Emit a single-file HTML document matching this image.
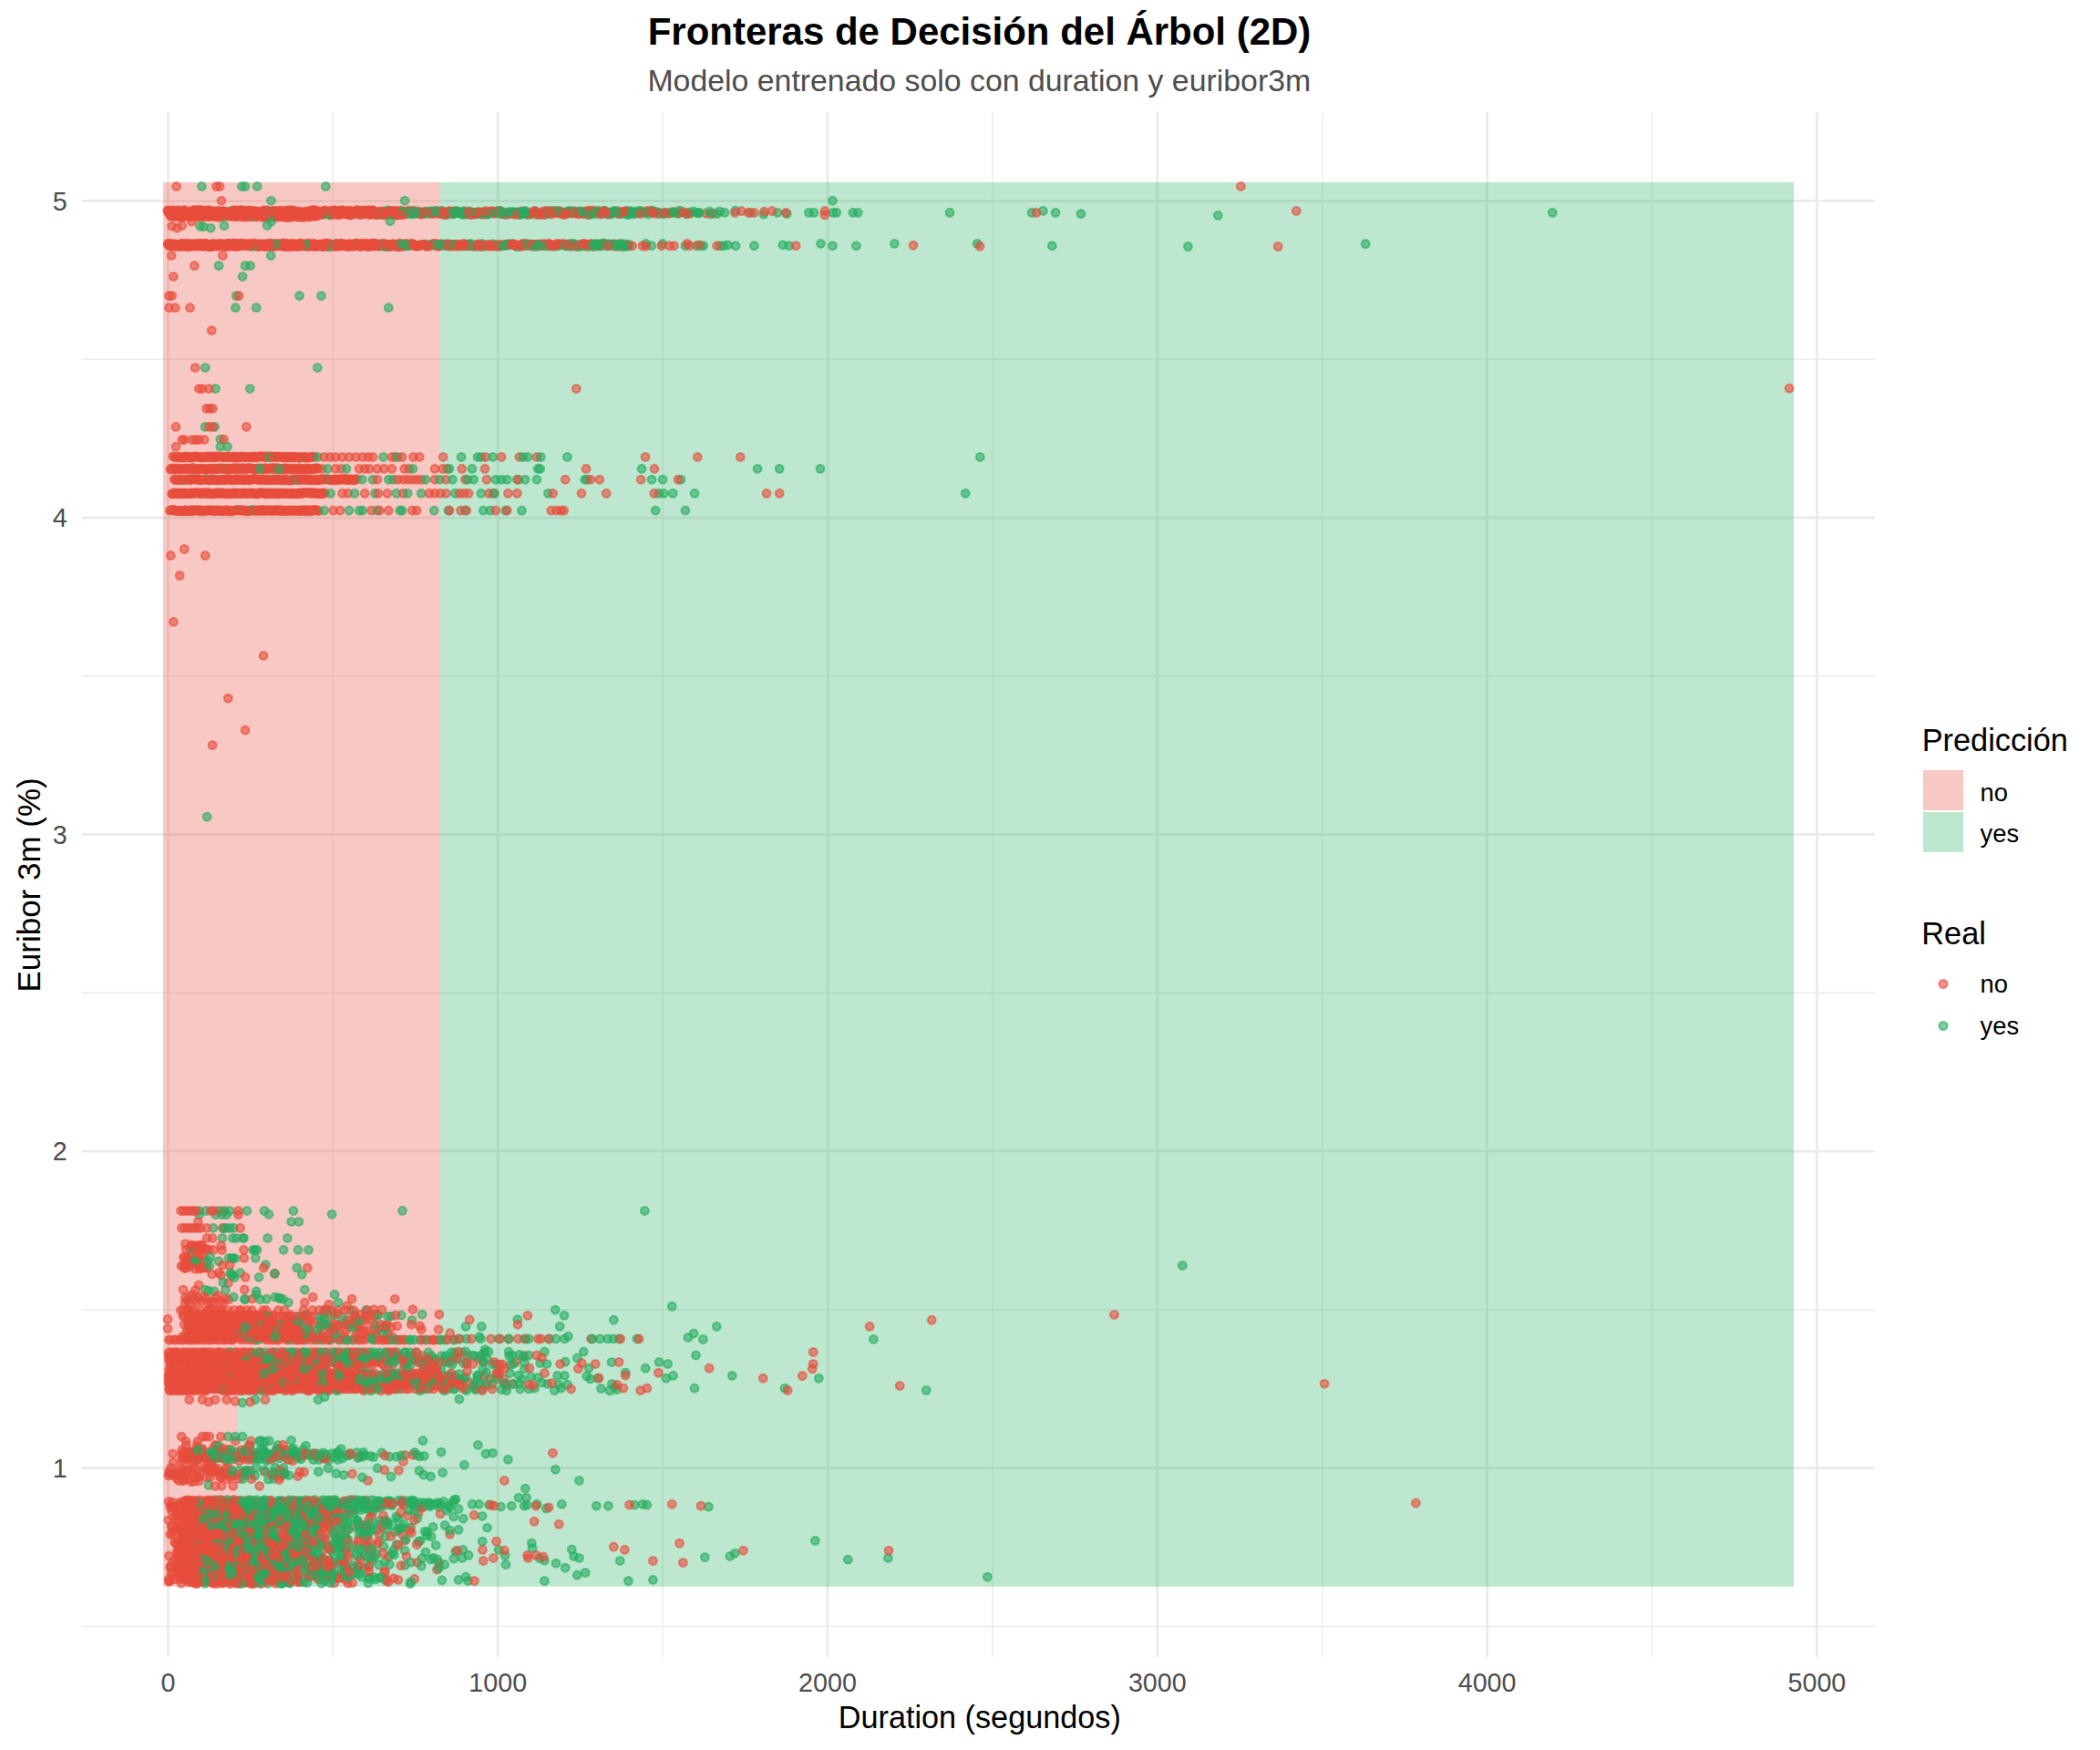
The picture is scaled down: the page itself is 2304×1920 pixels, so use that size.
<!DOCTYPE html>
<html><head><meta charset="utf-8"><title>Fronteras de Decisión del Árbol (2D)</title>
<style>html,body{margin:0;padding:0;background:#fff;width:2304px;height:1920px;overflow:hidden}</style>
</head><body>
<svg width="2304" height="1920" viewBox="0 0 2304 1920" style="display:block;font-family:'Liberation Sans',sans-serif">
<rect width="2304" height="1920" fill="#fff"/>
<path d="M90 1784.4H2057M90 1436.9H2057M90 1089.3H2057M90 741.7H2057M90 394.2H2057M365.3 123V1818M727.1 123V1818M1088.9 123V1818M1450.7 123V1818M1812.5 123V1818" stroke="#EBEBEB" stroke-width="1.45" fill="none"/>
<path d="M90 1610.6H2057M90 1263.1H2057M90 915.5H2057M90 568.0H2057M90 220.4H2057M184.4 123V1818M546.2 123V1818M908.0 123V1818M1269.8 123V1818M1631.6 123V1818M1993.4 123V1818" stroke="#EBEBEB" stroke-width="2.9" fill="none"/>
<path d="M179 200H483.0V1527H260.0V1740.7H179Z" fill="#E74C3C" fill-opacity="0.3"/>
<path d="M483.0 200H1968V1740.7H260.0V1527H483.0Z" fill="#27AE60" fill-opacity="0.3"/>
<defs><style>.r,.g,.R,.S{fill:none}.r{marker:url(#r)}.g{marker:url(#g)}.R{marker-start:url(#r)}.S{marker-start:url(#g)}</style><marker id="r" markerWidth="14" markerHeight="14" refX="7" refY="7" markerUnits="userSpaceOnUse"><circle cx="7" cy="7" r="4.4" fill="#E74C3C" fill-opacity=".6" stroke="#E74C3C" stroke-opacity=".6" stroke-width="2.2"/></marker><marker id="g" markerWidth="14" markerHeight="14" refX="7" refY="7" markerUnits="userSpaceOnUse"><circle cx="7" cy="7" r="4.4" fill="#27AE60" fill-opacity=".6" stroke="#27AE60" stroke-opacity=".6" stroke-width="2.2"/></marker></defs><path class="r" d="M211.1 501.6L233.6 234.6L523.6 269.1"/><path class="S" d="M519.4 269.7z"/><path class="r" d="M431.3 233.8L332.3 269.3L274.5 267.1L232 236.7L246.3 270.2"/><path class="g" d="M636 231.8L360.8 525.8"/><path class="r" d="M373.9 232L284.5 270.4L217.2 1367.1L206 513.9L513.1 269.2L194.6 560.6"/><path class="S" d="M571.5 270.1z"/><path class="r" d="M343.5 267.4L273.7 560.5L277.9 514.8L337.7 540.7L223.8 269.6L280.6 560.4L253.9 231.8L305.8 268.1L252.3 232.8L315.9 559.9L334.9 268.5L210.6 268.4L340.5 526.2L362.3 268.1L495.5 269.9L294.9 559.9L302.4 238.3L606.6 269.7L506.1 269.2L207.7 514.9L243.3 269.6L247.8 232.7L229 540.5L327.1 514.1L218.6 501.7L224 541L261.3 526.1L652.1 233.1"/><path class="S" d="M549.1 270z"/><path class="r" d="M199.7 542.1L319.2 270L224.2 234.8L218.7 561L281.2 502.2L212.1 231L328 232.4L308.7 268.9L190.6 232.8"/><path class="g" d="M719.3 232.7L611.3 232.5"/><path class="r" d="M206.7 501.7L647.9 231L357.8 267L252.6 526.4L228.8 502L207 233.4L322.3 541.7L467.5 269.9L266.8 513.8L343.5 526.2L393.3 233.4L283.3 232.9L340.8 501.8L277.5 235.7L435.7 231.6"/><path class="S" d="M434.8 235.9z"/><path class="r" d="M311 514.7L305 234.1L318.7 541.8L188.7 542L316.9 234.2L199.9 232.9L356.8 231.2L682.3 232.8L335 235.1L326.3 237.4L674.5 270L391.4 525.5L192.7 560.1L328.6 502L673.8 267.4L252.8 267.6L341.9 237.5L330.7 268.7L355.4 541L356.9 525.5L411.8 235.3L269.3 514.7L514.3 269L265 515L236.3 238.1L215.3 268.5L271 233.7L307.3 237.8L427 231.3L266.5 234.1L333.7 502.1"/><path class="S" d="M498 234.1z"/><path class="r" d="M220.9 230.8L271.9 526.3L238.3 268.4L221.9 501.5L323.7 232.3"/><path class="S" d="M413.2 269.5z"/><path class="r" d="M318.9 527L250.6 540.9L253.7 541.4L352.5 267.8L208.5 501.6L265.5 235.9L291.2 502L255.4 541.3L337.3 235.7L390.4 267.2L238 235.5L232 231.9"/><path class="S" d="M484.5 231.2z"/><path class="r" d="M307.4 501L296.1 540.7L344.9 270.5L190.5 234.8L356.4 541.1L251.3 514.2"/><path class="S" d="M373.6 267.6z"/><path class="r" d="M191.4 515L295.4 270L555.3 234L243.8 232.7"/><path class="g" d="M695.6 234.9L642.4 232.4L471.9 233.2"/><path class="r" d="M226.2 235.3L300 231.9L228.2 514.8L295.6 559.4"/><path class="S" d="M524 234.4z"/><path class="r" d="M279.8 541.8L286.1 540.6L230.3 269.2L411.3 270"/><path class="S" d="M425.2 230.7z"/><path class="r" d="M501.1 231.5L651.6 270.4L362.7 268.1L304.8 269.1L376.1 526.1L224.2 560.5L244.9 267.7"/><path class="S" d="M450.5 233.5z"/><path class="r" d="M204.1 233.3L314.5 235"/><path class="S" d="M548.8 269.5z"/><path class="r" d="M230.9 526.6L423.5 270.5L276.2 237.9L672 232.7L524.2 269.6L248.5 234.1L331.8 540.6"/><path class="S" d="M474.6 267.5z"/><path class="r" d="M380.4 269L515.9 235.4L345.1 230.6L220.3 559.9L607.5 270L336.7 270.3L191.2 525.7L228.3 231.3L354 270.1L298.7 526.6L554.8 235.5L613 269.4L220.4 542"/><path class="g" d="M528.7 267.4L594.7 269.4"/><path class="R" d="M268.5 541.5z"/><path class="S" d="M417.6 234.6z"/><path class="r" d="M525.3 267.7L334.6 526.6L321.4 541.5L385.9 269.6"/><path class="S" d="M461.1 268.5z"/><path class="r" d="M629.2 233.6L205.3 266.9L226 540.6L546.7 268.6L436.4 270.6L258.4 525.8L310 270.2L269.8 268.7L215.1 237.3L403.1 267.9L302.4 526.2L244.8 501.8L278.2 233.4L311.7 526.9L298.7 500.9L371.1 269L222 525.9L317.3 560.2L433.3 269L231.4 560.1L193 501.6L538.1 232.3"/><path class="S" d="M508.8 231.4z"/><path class="r" d="M576.6 267.3L297.2 235.8L379.6 233"/><path class="S" d="M665.9 269z"/><path class="r" d="M201.2 560.9L526.2 233.5L332.2 238.6L366.3 269.1L329.5 232L284.1 234.2L477.9 231.3"/><path class="S" d="M657.3 268.6z"/><path class="r" d="M316.4 501.9L575.5 269L291.8 232.2L303.2 513.8"/><path class="S" d="M566.1 233z"/><path class="r" d="M306.5 541.6L200.6 268.4L378.3 234.7L294.2 542L278.1 269.4L379 525.8L383 267.4L302.2 541.8L323.3 501.4L196.5 270.4L286.8 233.2"/><path class="S" d="M614.7 268.7z"/><path class="r" d="M213.8 234.6L406.9 234.2L382.3 526.4L214.5 269.4L389.2 234.2L424.3 269L226.1 1370.7L191.7 540.6L410.6 269.1"/><path class="S" d="M466.4 268z"/><path class="r" d="M463.5 233.2L703.6 231.7L315.1 541L366 269.7"/><path class="g" d="M227 234.2L698.9 231.6"/><path class="r" d="M209.1 238L317.2 514.4L651.7 231L259.1 525.7"/><path class="S" d="M707.2 233.1z"/><path class="r" d="M346.5 540.9L289 541.1L278.5 559.5L193.5 268.6L625.7 269.3L416.4 268.2L264.1 230.6"/><path class="g" d="M469.3 232.5L656.6 231.2L315.2 526.8L670.7 235.1"/><path class="r" d="M226.2 269.3L196.3 501.8L196 514.2L394.5 234L283.8 560.1L196.4 560.2L209.2 268.1"/><path class="S" d="M623.7 233.6z"/><path class="r" d="M286.5 233L491.5 269.9L404.8 268.2L252.9 526.6L636.7 270.2L275.9 231.4L425.5 234.1L395.2 235.8L327.4 238.3L211.3 233.4L224.3 1390.3L253.1 541.9L188.4 269.8L345.9 559.5L391 267"/><path class="S" d="M562 268z"/><path class="r" d="M258.9 270.6L372.8 267.2L274.6 231.5"/><path class="S" d="M501 269z"/><path class="r" d="M433.7 269.2L344.4 231.8L217.2 514.7L284 269.7L297.9 513.5L285.6 560.5L541.3 268.7"/><path class="g" d="M689.6 268.2L297.5 525.7"/><path class="r" d="M287.6 268.2L310.5 501.5L304.1 513.5L273.8 269.3L348.1 559.8L332.9 234.3"/><path class="S" d="M648 268.9z"/><path class="r" d="M326.1 270.3L269.6 541.1"/><path class="S" d="M212.7 525.5z"/><path class="R" d="M757.3 234.2z"/><path class="S" d="M617.7 233.3z"/><path class="r" d="M511.9 268.3L566.7 270.4L641.6 233.2L430.4 231.9L480.7 234.1L591.3 235.3L219.3 501.2L342.9 269.1"/><path class="S" d="M610.6 231.8z"/><path class="r" d="M442.6 270L464.6 234.6L271.2 269L258.2 514.8L309.6 501.7L273.1 230.7L250.4 525.5L477.9 267.5L329.1 541.1L397.8 268.1L544.7 232.4L292.9 560.6L216.9 268.2L283.5 268.4L351.7 526.3L286.6 269.3L260.6 514.8"/><path class="S" d="M458.5 232.6z"/><path class="r" d="M225.5 237.3L207.9 233.1L216.5 540.5L225.8 515.1L313.5 233.7"/><path class="S" d="M600.7 234.3z"/><path class="r" d="M282.6 235L273 501.6L339.8 235.6"/><path class="S" d="M521.4 270.2z"/><path class="r" d="M212.9 560.1L262.3 237.3L212.4 268.8L408.3 233.9L190.6 269.3"/><path class="S" d="M425 269.6z"/><path class="r" d="M324 541.4L224.4 1382.6"/><path class="g" d="M578 235.1L655.5 269.8"/><path class="r" d="M492.6 231.9L385.8 526.2"/><path class="S" d="M549.4 231.4z"/><path class="r" d="M256.2 230.8L332.9 526.3L418.6 269.6L386.4 270.2"/><path class="S" d="M558.7 268.4z"/><path class="r" d="M366.9 525.7L303.5 541.3L261 269.4L249.6 514L564.8 234.1L440 231.2L244 540.7L439 267.8L284.9 500.9"/><path class="g" d="M577.8 234.6L572.4 235"/><path class="r" d="M380 234.4L292.9 230.7L387.5 232.3L264.7 501.5"/><path class="S" d="M354.2 235.7z"/><path class="r" d="M520.7 269.9L232.9 269.9L604.6 270L354.7 270.6"/><path class="S" d="M687.8 231.3z"/><path class="r" d="M193.2 513.8L284.5 500.7"/><path class="S" d="M779.5 234.9z"/><path class="R" d="M386.8 526.4z"/><path class="S" d="M642.5 268z"/><path class="r" d="M583.6 270.2L634.9 268.7L538.7 270.1L338 233.1"/><path class="S" d="M545.1 231.7z"/><path class="R" d="M210.6 513.5z"/><path class="S" d="M619.5 233.3z"/><path class="R" d="M216.6 1384.2z"/><path class="S" d="M628.3 267.2z"/><path class="r" d="M274.7 560.3L274.1 231.7L197.3 269.6L250 500.9L679.6 267.8L364.2 268.8L267.7 267.3L294.1 270.4L208.3 270.3"/><path class="g" d="M663.7 267.3L502.1 233.5"/><path class="r" d="M381 526.6L249.4 233.7L312.8 501.8"/><path class="S" d="M529 233.1z"/><path class="r" d="M338.5 526.8L270.6 231.4L308.2 233.6L292.5 269.7L270.2 515L432.4 231.7"/><path class="S" d="M551 234.8z"/><path class="r" d="M197.3 514.2L303.8 560.1L346.3 513.5L585 268.8"/><path class="S" d="M488.1 234.5z"/><path class="r" d="M436.6 233L361.1 234.9L335.8 231.7"/><path class="S" d="M666.6 234.2z"/><path class="r" d="M221.2 1367L252.8 232.7L246.9 541.3L189.7 230.6L285 559.7L235.6 269.6L358.5 268.7"/><path class="S" d="M444.4 267.7z"/><path class="r" d="M194.3 541.7L226.5 560.1L260.8 233.3"/><path class="S" d="M680.9 234.3z"/><path class="R" d="M287.6 233.3z"/><path class="S" d="M671.9 268.5z"/><path class="r" d="M287.6 514.1L214.5 230.8L351.9 235.1L288.7 514.9L195.5 236.7L407.8 267.9L589.4 270.1L305.5 526.7L248.5 237L305.5 559.7L437.6 232"/><path class="S" d="M581.6 235.2z"/><path class="r" d="M288.3 525.8L377.3 525.5L353 233.1L374 268.5L362.3 526.4L364.6 233.3L598.7 268.1L212 501.2L193.3 560.7L365.5 235.2L194 269L262.6 270L348.5 270L289.2 267.7"/><path class="S" d="M731.2 233.5z"/><path class="r" d="M344.5 514.5L276.6 234.3L201.4 501.8L257.6 270.3L297.3 541.6L282.7 270.2L343.3 231.2L300.2 231.3L329.2 514.9L380.1 269.2L489.7 235.6L248.8 269.5"/><path class="S" d="M693.3 234.1z"/><path class="r" d="M390 234.4L211.4 559.5"/><path class="g" d="M658.5 270.1L632.5 270.1"/><path class="r" d="M267.2 526.6L206.2 1386.1"/><path class="g" d="M587.5 231.8L290.5 231.2"/><path class="r" d="M584.9 268.9L319.9 268L613.8 231.4L343.8 514.9L319.7 514.8L313.1 502"/><path class="g" d="M459.2 269.8L662.1 267.2"/><path class="R" d="M336.3 502.1z"/><path class="S" d="M569.6 270.2z"/><path class="r" d="M202.3 1391.3L371.6 526L278.7 231.7L208.8 526.9L518 270.1L248.2 269.9L327.4 560.4L221.5 269.8L279.6 234.1L481.7 270.2L582.5 234.2L301.4 526.8L334.8 540.6L186 268L325.4 234.1L198.8 515L543.4 269.4L190.4 559.5L307 269.4"/><path class="S" d="M650.5 232.9z"/><path class="r" d="M211.5 267.8L388.6 233.2L227 500.7L228.2 270.6L264.3 513.7L521.6 233.5L351.3 234.1"/><path class="S" d="M638.7 267.8z"/><path class="r" d="M327.1 270.2L341.3 514.8L444.3 235.3L625.6 232.6L230.6 514L212.8 230.8L323.4 513.9L425.4 270.4L193.3 234.9L272.3 269.5L241.6 234L405.5 230.8L196.5 230.9"/><path class="S" d="M590.4 234.4z"/><path class="r" d="M305.7 232.9L246.7 268.3L515.1 269.2L339.4 541L463.8 268.7L212.5 514.9L268.8 235.7L273.5 235.6L431.5 269.1"/><path class="S" d="M670.1 268.5z"/><path class="r" d="M338.8 267.6L219.4 1366.9L349.7 269.7"/><path class="S" d="M459.4 231.9z"/><path class="r" d="M677.5 231.5L342.7 514.4L184.1 267.6L472.9 268.4L306 231.5L504 233.7L291.3 541.6L254.3 268.2L244.3 268L304 235.5"/><path class="S" d="M655.5 232.5z"/><path class="r" d="M310.9 541L201.8 237.6L229.5 270.5L384 525.6L399.4 234.9"/><path class="S" d="M379.2 268.9z"/><path class="R" d="M246.1 541.9z"/><path class="S" d="M579.4 268.7z"/><path class="r" d="M286.6 500.9L439.9 235.7L256.1 513.5L348.6 541L447.8 232.5"/><path class="S" d="M574.6 267.6z"/><path class="r" d="M242.1 526.4L240.1 233.7L275 513.7L212.3 268.2L321.8 268.6L247.2 270.6L241.5 267.6"/><path class="S" d="M522.4 234.9z"/><path class="r" d="M638 233.8L197.7 541.2L340.3 561L280.9 541.8"/><path class="S" d="M688.3 235.1z"/><path class="r" d="M448.5 268.7L266.9 269.6L240.7 268L205.6 560.7L202.3 500.9L217.9 540.9L259.6 267.9L292.7 500.9L609.2 233.9L226.8 526L456 233.7L362.8 234.6L368.9 526.8L654.9 232.8L272.6 526.5L254.4 526.4L630.9 268L222.7 267.5L345.3 268.1L342.7 230.7L460.7 233.5L387.3 270.1L201.8 1387.7L261.5 235.4L202.1 231.8L269.9 231.9L300.3 267.7L262.8 513.8"/><path class="S" d="M456.3 234.3z"/><path class="R" d="M318.1 501z"/><path class="S" d="M654.5 267.4z"/><path class="r" d="M219.4 541.2L419.2 231.8L440.6 270.3L291.8 267.7L678.5 270.1L290.6 270.6L326.8 526.1L266.3 269.5"/><path class="S" d="M535.8 234.9z"/><path class="r" d="M643.7 232.1L669.4 269.2L548 231.8L296.2 266.9L375 234.9L302.7 560L214.9 559.7L323 560.7L611.2 267.5L293.3 540.7L415.8 270.2L493.8 270.1"/><path class="S" d="M626.9 269.3z"/><path class="r" d="M374.5 526L315.8 268.5L251.4 561L239.6 231.2L214 270.3L312.5 513.5"/><path class="g" d="M672.7 269.2L597 268.8"/><path class="r" d="M249.5 501.5L502.3 270.2L313.8 514.3L333.5 540.8L210 540.6L547.5 270.3L231.3 514.4L272.3 560.7L315.3 514.7L557.2 267.7L659.3 233.7L511.3 234.9L369.3 268.8L359.3 268.4L291.2 514.4L242.3 233.4L579.2 234.9L355.9 268.7L215.6 1367.9L222.4 236.7L545.8 269.3"/><path class="S" d="M699.6 233.5z"/><path class="r" d="M261.8 231.6L273 513.8L343 501.1L300.6 501.3L287.7 500.8L200.9 267.7L293.4 501.1L580.4 234.6L371.9 234.9L295.8 237.6L466.7 232.3L303.3 501.3L424.2 234.9L270.4 541L350.8 234.5L203.6 541L434.3 268.9L336.2 232.9L228.8 559.8L317 233.8L319.4 232.3L209.7 514.4L232.4 237.2L314.8 238.6L478.2 269.3L202.5 1379.5L303 231.6L264 236.6L195.8 233.5"/><path class="S" d="M598.1 234.9z"/><path class="r" d="M326.8 267.7L201.6 269.6L313.7 270.3L614.9 233.8"/><path class="g" d="M524.7 232.3L680.4 268.3"/><path class="R" d="M314.2 560.8z"/><path class="S" d="M711.4 234.9z"/><path class="r" d="M234.9 267.7L451.5 267.2L196.8 540.6L275.5 270.4L189.8 559.4L414.3 269.4L437.6 270.4L326.1 559.9L306.4 267.5L302.1 501.2L252.6 560.3L283.7 526.4L556.2 234.5L280 267.2L217.1 235.5L333.7 267.8L336.3 525.5"/><path class="S" d="M506.5 234.8z"/><path class="r" d="M290.5 514.1L596.1 267.6L469.6 268.9L376.7 232.2"/><path class="S" d="M604.7 231.6z"/><path class="r" d="M280.8 269.6L446.1 267.3L352.6 234.2L226.6 269.1L342.2 541.6L216.9 237.6L556.3 268.8"/><path class="S" d="M692.2 231.5z"/><path class="r" d="M320.7 230.6L213.4 268.7L186.6 267.1L309.5 234.5L421 235.7L392.7 232.9"/><path class="S" d="M602.1 233.8z"/><path class="r" d="M203.3 269.6L262.8 234.3L313.6 525.6"/><path class="S" d="M604 232.1z"/><path class="r" d="M299.4 541.4L321.4 266.9L341.5 235.8L616.5 233.1L360 270.6L319.8 526.9L294.8 267.4L355.4 231.2L481.9 234.3L303.8 269.3"/><path class="S" d="M632.5 232.4z"/><path class="R" d="M348.2 526.1z"/><path class="S" d="M663.3 231.2z"/><path class="r" d="M553.7 268.8L274 526.9L442.1 235.2"/><path class="S" d="M445.8 269.2z"/><path class="r" d="M291.9 233.9L236.7 500.7L446.1 232.7"/><path class="S" d="M509.8 235z"/><path class="r" d="M301.3 515L191.1 237.9L308.1 526.4L242 560.1L491.2 234.9L325.9 514.6L335.9 514.9"/><path class="S" d="M497.3 234.9z"/><path class="r" d="M362.3 236L640.5 234.8L198.7 525.8L427.5 268.3L426.1 269.2L276.9 540.8L401.5 233.6"/><path class="S" d="M631.3 233.6z"/><path class="r" d="M261.5 267L224.9 233.8L409.5 231L551.2 268.3L329.4 560"/><path class="S" d="M517.4 269.1z"/><path class="r" d="M304.6 268.2L421.3 267.3L217.9 269.3L227.1 267.9L245.7 501.4L644.2 269.3L348 232.9"/><path class="S" d="M660.7 233.9z"/><path class="r" d="M309.8 515L243.1 269.8L275.6 233.6L347.3 269.2L344.4 559.6L256.6 267.1L277.9 525.6L236.9 540.7L646 235.5"/><path class="S" d="M609.6 270z"/><path class="r" d="M233.5 526L431.7 267.5L373.6 525.4L295.9 526.7L371.8 270.1L416 235.6L291.1 559.4L247.3 560.1L396.3 234.8L633.3 269.7L324 231.3"/><path class="g" d="M581.2 269L716.4 232.6"/><path class="r" d="M282.1 270L211.4 541.8L312.9 270.6L323.5 560L294 231.4"/><path class="S" d="M470.7 269.2z"/><path class="r" d="M304.6 236.8L394.1 268.6L260.5 502.2L355 234.5L345.4 526.4L724.2 234.1"/><path class="S" d="M541.6 233.2z"/><path class="R" d="M287.4 268.9z"/><path class="S" d="M225.2 525.6z"/><path class="r" d="M577.3 269.5L268.6 501.5L209.3 541.2L196.3 269.6L200.3 234.8L280.4 515.1L403.4 230.7L337.2 540.6L774.6 234.1L358.3 526L277.4 501L232.5 559.8L365.6 231.1L219.3 238.1L357.6 233.7L649.1 233.7L208.9 231.7L187.7 559.4"/><path class="S" d="M736.6 232.8z"/><path class="r" d="M414.4 233.8L363.1 268.3"/><path class="S" d="M621.7 234.7z"/><path class="R" d="M309.7 266.9z"/><path class="S" d="M678.6 234.5z"/><path class="r" d="M369.4 233.1L236.3 541.7"/><path class="S" d="M516.3 267.2z"/><path class="r" d="M190.6 270L408.9 230.7L210.2 267.5L194.5 514.5L366.7 231.1L229.7 501.4L528 270.3L334.6 501.7L602.3 267.2L454.2 231.2L661.9 267.3L358 232.4L394.7 269.8L319.8 238.1L262.1 268.5L298.3 231.7"/><path class="S" d="M422 232.6z"/><path class="r" d="M191.9 268.8L562.2 267.8L291.4 526.2"/><path class="S" d="M330.1 502.1z"/><path class="r" d="M209.1 269.8L296.1 500.7L636.8 232.9L346.6 237L592.8 234.4L378.5 268.7L404.1 270.2L288.7 560.8"/><path class="S" d="M503.5 232.5z"/><path class="r" d="M248.2 526.4L253.3 560.3L419.8 267.4L338.6 235.7L275.1 269.7L207.5 234.3L348.6 514L233.8 267.6L328.7 526.1L531 235.2L203.3 1364.7L285 267.5L240.6 526.5L301.5 233.8L257.9 237.9L267.8 513.8L433.4 231.8L251.2 501.1L258.3 541.5L186.2 560.2L295.4 235.2L528 234.9"/><path class="S" d="M505.2 233.6z"/><path class="r" d="M330.2 235.4L273.8 237.4L356.4 231.1L398.9 232L288.6 237.9L238.7 237.4L487.1 269.2L321.8 234.7"/><path class="S" d="M685.2 267.7z"/><path class="r" d="M308.8 231L187.9 268L501 268L465.6 268.6L409.2 268.6L234.9 514.8L195.5 542L316.5 526.9L450.4 267.9L328 526.9L347 270.2L364.8 526.4"/><path class="S" d="M668.4 267.8z"/><path class="r" d="M247.5 514.3L220.8 267.4"/><path class="S" d="M616.5 268.4z"/><path class="r" d="M378.3 269.3L239.8 270.3L233.2 235.6"/><path class="S" d="M743.3 234.2z"/><path class="R" d="M263.4 526.3z"/><path class="g" d="M279.2 237.7L429.1 270.3L599.4 269.8"/><path class="r" d="M376.2 269.1L318.2 267.7L382.4 268.7L251.5 267.8L688.1 269.3"/><path class="S" d="M789.5 232z"/><path class="r" d="M534.6 269L639.8 268.9L217.2 1388.4L265.6 559.4L242.5 235.7"/><path class="g" d="M473.8 268.6L607.1 231.3"/><path class="r" d="M307.3 560.8L276.1 525.8L405.5 270L426.6 270.5"/><path class="S" d="M546.8 231.6z"/><path class="r" d="M289.7 269.7L244.8 232L340 237.8L188.1 232.4L443.9 269.6L223.2 231.1L202.3 514.5L266.6 540.8L280 525.6"/><path class="S" d="M643.6 270.4z"/><path class="r" d="M370.2 269.8L437.2 270.5L570.4 269.9L248.5 559.9L359.9 233.6"/><path class="S" d="M254.5 231.4z"/><path class="r" d="M415.2 269.8L194 526.8L347.4 541.7L197.6 502.2L553.1 234.4"/><path class="S" d="M660.1 267.3z"/><path class="r" d="M301.8 559.5L403.6 232.1"/><path class="S" d="M531.7 269.2z"/><path class="r" d="M495.9 232.5L195.2 268.6L608.8 232.1L585.5 231.9L284.7 540.8L302.7 269.8L482.3 233.1L302.3 232.7L201.3 514.3"/><path class="S" d="M635 270.3z"/><path class="r" d="M188.8 235.8L280.2 231.6L201.8 541.1L686.5 269.2L192.2 234.4"/><path class="g" d="M618.1 268L637.6 269.6"/><path class="r" d="M186.8 269.8L298.9 513.6L222.9 540.6L324.6 269.5L311.2 267.6L350.5 268.2L260.8 540.9L240.2 268.2L266.2 238L512.8 233.6L198.2 267.9L445.7 233.6"/><path class="S" d="M589 234.2z"/><path class="R" d="M234.9 560.9z"/><path class="S" d="M554.4 268.4z"/><path class="R" d="M211.4 237z"/><path class="g" d="M624.9 267.4L568.8 234.5"/><path class="R" d="M202.3 270.1z"/><path class="S" d="M557.6 234.6z"/><path class="r" d="M210.5 1367.7L197 236L243 526.6L518.8 233.4L217.6 501.6L391.8 267.3"/><path class="S" d="M479.6 231.6z"/><path class="r" d="M336.7 501.8L376.4 230.7L248.3 514.9L230.5 270.4L683 232.3L221.6 513.9L326.9 541.5L318.8 234.1L201.1 541L244.3 560.8L326.1 232.9L371 232.3L205.5 235.3L439.7 267.7"/><path class="S" d="M593.8 234.4z"/><path class="r" d="M210.9 525.7L630.2 231.6L250.3 541.5L199.7 266.9L349.1 268.2L438.8 232.4L249.9 233.5L331.4 514.7L205.3 270.7L267.8 231.4"/><path class="S" d="M243.9 513.7z"/><path class="r" d="M225.3 232.8L331.7 233.8L242.9 541.2L288.8 238.3L344 237.1L317.5 541.3L255.2 269.4L260.2 269.8L408.5 267.5L530.7 232.4L250.6 267L223.3 560.9L412.1 267L213.4 525.8L375.4 231.1L322.5 235.8L212.8 513.6L323.4 270.1"/><path class="S" d="M458.6 269.5z"/><path class="r" d="M193 231.9L347.9 269.7L414.3 235.5L344.4 540.9L227.4 230.8L289.4 500.8L237.2 501.4L346.3 235.3L279.3 514.4L247.4 232.3"/><path class="S" d="M760.4 232z"/><path class="r" d="M238.9 232.8L206.2 232.7L413.7 235L428 268.2L336.5 238.1"/><path class="S" d="M536.3 233.8z"/><path class="r" d="M401.9 233.6L273.1 269.5L430 269.5L410.9 232L254.5 501L258.9 237.1L231.4 270.4L200.2 501.9L189.1 269.4L214.3 514.9L588.3 235.3L331.7 268.1"/><path class="S" d="M683.5 270.3z"/><path class="r" d="M279 267.6L340.9 540.6L386.8 234.4L285 232.6L218.4 514.7"/><path class="S" d="M480.6 269.5z"/><path class="r" d="M276.3 513.9L237.1 267.9L219.7 514.2L282.4 514.5L353.1 541.5L287.3 559.5L293.8 237.4"/><path class="S" d="M685.5 234.4z"/><path class="r" d="M331.5 501L258.9 502L398.4 267.6L206.4 270.1L565.8 269.8L550.3 234.3L669.2 232.9"/><path class="S" d="M657.4 232.3z"/><path class="r" d="M237.6 560.6L213.4 232.8"/><path class="S" d="M541 267.7z"/><path class="r" d="M423.7 232.8L269.1 559.7L263.8 560.1L483.6 267.4L594.7 235.3"/><path class="S" d="M456.4 269.9z"/><path class="r" d="M191.6 234.6L333.8 237.7L226.9 1391.3L368.2 267.7L646.3 269.9L330.9 237.7L357 267L532.3 269.5L289.4 231.3L520.9 233.8L190.1 1604.5L645.9 235.2L298.6 270.4L401 269.1L388.6 526.8L304.1 234.8L281.3 270.1L427.6 234.6"/><path class="S" d="M276.1 559.5z"/><path class="R" d="M326.6 234.1z"/><path class="S" d="M620.5 269.8z"/><path class="r" d="M224.6 526.4L509.2 267.4L597.2 235.5"/><path class="S" d="M730.1 233.7z"/><path class="r" d="M476.4 267.2L640.1 267.7L248.4 542L453.4 232.8L250.2 270.3L206.8 525.8L383.2 235.9L245.5 268.4L322.9 268.4L257.7 500.9L342 526.9L426.1 235L615.7 267.7L216.6 515L595.7 231.8L228.6 526.6L372.5 235.6L337.5 270.3L228.8 268.2L417.5 232.2L259.1 234.9L332.3 515.1L318 559.9L539.9 269.3"/><path class="S" d="M639.2 233.3z"/><path class="r" d="M257.2 267.1L325.2 269.2L234.7 268.2L198.8 560.3L274.6 540.7L293.3 268.5L248 501.8"/><path class="S" d="M358.6 233.4z"/><path class="r" d="M455.7 269.6L368 234.7L363.9 234.3L272.1 501.3L389.6 270L422.1 235.2L608.3 269L240.1 540.6L238 559.4"/><path class="S" d="M676.4 232.5z"/><path class="r" d="M192.6 526.6L239.3 514.7L226.9 514.8L415 232.3L532.4 234.8L240.3 238.4L384.4 268.1"/><path class="S" d="M507.2 270z"/><path class="r" d="M263.4 269.2L543.1 232.5"/><path class="S" d="M563.9 234.2z"/><path class="r" d="M535.9 269.3L256.1 502.1L235.6 514.2L539.8 231.5L272.3 231.2L341.2 232.9L221.8 541.4L659.6 269L189.1 541.5L739.4 232.4"/><path class="S" d="M330.9 234.2z"/><path class="r" d="M343.5 540.5L365.6 526.6L277.7 541.4L612.5 267.8L370.8 526.2L382.1 268.8L377.2 268L331.2 234.4L536.6 270L292.5 513.8L229.1 231.5L224.9 501.5"/><path class="g" d="M489.6 269.7L576.3 231.2L563 232.4"/><path class="r" d="M249.1 559.5L234.3 501.7L550.4 268.9"/><path class="S" d="M200.8 526.7z"/><path class="r" d="M226.9 559.9L223.6 234.1L268.2 237L267.9 501.4L207.1 560.7"/><path class="g" d="M244.6 237.6L580.1 267.9"/><path class="R" d="M207.7 237.2z"/><path class="S" d="M449.2 234.7z"/><path class="r" d="M342.1 269L216.7 559.9"/><path class="S" d="M559.3 267.8z"/><path class="r" d="M590.2 268.1L320.9 526.3L312.2 525.9L184.4 267.6L213.9 500.8L232.9 235.6L230.9 501.3L382.5 232.2L301.4 270L261 559.5L438.2 267.1L529.1 269.2L272.6 541.4L422.7 268"/><path class="S" d="M664.7 269.3z"/><path class="r" d="M497.7 268.4L311 560.8"/><path class="S" d="M391.5 232.8z"/><path class="r" d="M398.3 231.4L682.4 270L253.7 514.9"/><path class="S" d="M666.2 269.9z"/><path class="r" d="M309.6 541L430.9 268.2L279.4 560.3L564.4 268.8L349.5 231.5L317.6 230.7"/><path class="S" d="M656.7 268.2z"/><path class="r" d="M237.7 268.3L218 231L363.6 231.1L722 234.5L347.7 235.3L381.8 235.1"/><path class="S" d="M665 233.3z"/><path class="r" d="M282.1 237.9L207.2 541.5L258.5 268.1L346.9 231.1"/><path class="S" d="M356.5 525.7z"/><path class="R" d="M243 560.5z"/><path class="S" d="M629.8 268.2z"/><path class="r" d="M203.5 233.9L342.3 230.7"/><path class="S" d="M402.3 233.6z"/><path class="R" d="M233.1 541.4z"/><path class="S" d="M542.9 269.2z"/><path class="r" d="M202.4 559.8L353.3 525.5L200.4 238.1L281.7 541.4L198.1 234.8L191.8 501.7L225.3 267L592.7 268.7L284.5 234.9L220.8 501.8L559.6 233.8"/><path class="g" d="M527.2 234.2L677.8 268.5"/><path class="R" d="M544.1 270z"/><path class="g" d="M653.2 234.5L452.4 234.9"/><path class="r" d="M389.9 526.1L560.8 234.5"/><path class="S" d="M622.9 269.8z"/><path class="r" d="M209.6 525.7L720.6 232.7L672.4 233.1L231.8 525.4L218.8 269.8L338.2 266.9L479.6 270L222.1 559.8"/><path class="S" d="M462.5 235.1z"/><path class="r" d="M274.5 501.7L339 559.6L385.4 235.9L215.9 267.1L285.6 237.1L234.5 526.5"/><path class="S" d="M490.8 233z"/><path class="r" d="M194.2 500.8L454 268.5L200.1 526.2L241 235.8L344.8 501.2L391.2 230.6L414.4 268.4L644.4 231.3L434.2 232.9L320.7 515L204.7 559.8L283.3 514.1L333.2 559.7"/><path class="S" d="M510.4 232.5z"/><path class="r" d="M202.7 230.6L238.7 268.1"/><path class="S" d="M530.5 270.1z"/><path class="r" d="M286 268.3L205 236.8L387.6 268.1L606.1 232.3L204.4 541.9L190.8 541.6"/><path class="S" d="M689.4 235.6z"/><path class="r" d="M378.6 233.8L377.5 231.5L335.8 268.1L526.9 270L203.1 525.9L325.6 501.6L219.6 1392.1L709.9 231.6L319.4 501.7L264.7 234.1L325.9 525.4"/><path class="S" d="M295.8 502z"/><path class="r" d="M339.6 526.2L236.2 232.6"/><path class="S" d="M552.4 269.6z"/><path class="r" d="M270.7 525.8L348 513.9L334.3 514.3"/><path class="S" d="M436 269.4z"/><path class="r" d="M214.9 501L437 235.5L192.7 237.4L418.8 235L253.8 237.4L496 234.1L312.1 267.9L349.7 233.3L333.9 233.6L255.6 232.3L260.1 541.7"/><path class="S" d="M534.4 235z"/><path class="r" d="M571.5 231.9L596.5 234.4L219.7 230.7L460.4 269.7L462.4 268.5L340.6 234.5L328.7 233.7L519.7 235.1L310.3 560L184.3 232.6"/><path class="g" d="M368.1 267.5L766.3 233.9"/><path class="r" d="M633.7 234.1L349.5 560.6L493.8 231.5L641.5 267.6L244.1 501L346 268.5L328.2 560.7L298.2 232.6"/><path class="S" d="M568 233z"/><path class="r" d="M265.8 230.7L207.3 1383.2"/><path class="S" d="M552.4 232.9z"/><path class="r" d="M364.9 269.1L320 559.7L618 267.6L283.7 526.1L380.4 234.2L593.9 268.1L351 269.1L279.4 268.4L196.9 526.5L298.4 559.9"/><path class="S" d="M555.2 269.2z"/><path class="r" d="M340.5 269.9L203.9 269.9"/><path class="S" d="M485.8 235z"/><path class="R" d="M198.7 268.9z"/><path class="g" d="M681.3 234.2L567.5 269.9"/><path class="r" d="M222.4 514.5L318 513.7L542.6 234"/><path class="S" d="M470.9 234.5z"/><path class="R" d="M337 268.6z"/><path class="S" d="M388.9 267.8z"/><path class="r" d="M202.3 233.5L374.1 231.3L334.6 560.9L388.6 268L338.7 501.9L381.2 270.7L210.6 1386.7L332.9 234.5L401.9 267.1L483.4 233.1L569.7 235.3L622.6 232.1L198.7 234.7"/><path class="S" d="M627.5 232z"/><path class="r" d="M354.2 526L340.3 501.7L339.6 269.7L198 560.6L306.6 540.7L365.5 269.1L257.3 540.6L394.2 233.5L324.8 232.9L475.2 234.5L244.6 526"/><path class="S" d="M259.6 559.6z"/><path class="r" d="M402.8 270.6L328.7 513.7L244.9 560.5L228.4 231.2L572.4 269.8L419.6 232.7L428.2 232.7L648.7 267.3L601.1 268.7L634.5 234.9L239 526.9L359.1 268.4L346.9 526.6"/><path class="S" d="M416.4 234.5z"/><path class="R" d="M246.8 232.4z"/><path class="g" d="M512.5 269.8L675.7 268.6"/><path class="r" d="M251.2 268.4L417.3 268.5L308.4 541.8L400.3 268.1L295.6 514.3L327.2 235.9L191.9 514.3L385.8 232.5"/><path class="S" d="M486.3 268.3z"/><path class="R" d="M411.6 235.1z"/><path class="g" d="M673.7 231.3L490.5 267.4"/><path class="r" d="M216.2 230.8L313.3 268.3L307.2 233.7"/><path class="S" d="M728.1 234.9z"/><path class="r" d="M573.3 267.5L250.8 234.4L213.6 541.2"/><path class="S" d="M417.6 267.8z"/><path class="r" d="M240.6 514.1L610.2 268.3L209.3 559.5L396.6 266.9L560.3 268.4L352.7 541.1L242.5 514L266 267.6L219.4 526.6L220 267.3L229.8 526.9L215.9 525.9L279.5 525.8L216.3 232.7L257 559.9"/><path class="S" d="M583.5 233.9z"/><path class="r" d="M406.5 235.1L419.2 268.2L338.6 514.2L584.7 233.7L185.1 231.5L360.7 267.3L203.6 513.9L237.5 514.7L184.1 1447.3L345.2 231.6"/><path class="S" d="M674.3 232.5z"/><path class="r" d="M341.6 269.1L406.4 270.3L397 231.4L734 234.3L350.5 526.4L187.7 231.4L264 266.9L296.7 267.4L484.1 269.1L270.7 501.5L268.5 267.9L286.1 513.9L333.3 525.4L261.5 501.2L312.8 560.2L342.9 559.8L237.5 526.5L330.6 541.9L312.9 233.1L254.8 234.3"/><path class="S" d="M323.8 526.4z"/><path class="r" d="M412.9 234.9L386.5 232.3"/><path class="S" d="M507.5 235.2z"/><path class="r" d="M210.5 560.9L194.8 269L307.5 514.6"/><path class="S" d="M514.3 232.1z"/><path class="r" d="M195.7 526L686.7 231.7"/><path class="S" d="M624.3 231.2z"/><path class="r" d="M235.3 233.6L295.8 234.3L237.9 235.5L264.7 541.9L189.6 1595L268.3 526.1L400.1 269.6L304.6 542L185.7 233.6L318.1 269.9L404 269.1L265.4 268.6"/><path class="S" d="M449.2 269.1z"/><path class="r" d="M505.2 268.3L191.3 267.4L334.4 233.8L392.3 267.8L231.3 542L308 514.6L540.9 233.8L393 269.1L369.8 235L286.3 526.7L217.3 559.4L325.3 542L595.3 269.4L282.3 559.7"/><path class="S" d="M447.2 269.9z"/><path class="r" d="M330.1 267.2L185 269.3L337.6 560.5L615.5 234.6L340.8 268.3L300.1 560.7L448.1 231"/><path class="g" d="M649.3 270L661.1 234.6L333.3 269.3"/><path class="r" d="M412.5 269.4L623.9 269.6"/><path class="S" d="M578.8 268.1z"/><path class="R" d="M395.5 269.2z"/><path class="g" d="M421.6 270.4L653.6 267.8"/><path class="r" d="M323.3 515.1L645.7 268.6L299.6 270.2L198.2 501.3L195.7 235.1L298 269.2L259.1 513.6L258 560.3L292.2 238.2L430.7 232.8L272.1 513.6L317.5 270.5L233.4 514.1"/><path class="S" d="M485 268.3z"/><path class="r" d="M221.4 231.7L216.5 268.2L280.7 234.9L193 270.3"/><path class="S" d="M361.1 235z"/><path class="r" d="M223.2 238.1L586.5 231.6L188.2 514.4L272 234.2L496.2 268.4L271.4 268.7"/><path class="S" d="M626.4 233.2z"/><path class="r" d="M286.5 525.8L274.1 541.4"/><path class="S" d="M475.6 268.9z"/><path class="r" d="M224.2 270L268.3 235.2L205.2 514.5L281.7 232L327.5 501.9L461.7 235L359.8 231.7"/><path class="S" d="M676.3 269.9z"/><path class="r" d="M255.1 514.5L348.9 233.6L453.7 269.6L344 267.6L239.3 560.2L269 267.4"/><path class="S" d="M601 269.5z"/><path class="R" d="M255.4 269.1z"/><path class="S" d="M561.9 232.8z"/><path class="r" d="M255.9 526.9L254.9 560.8L312.4 238.3L224.2 501.9L373.3 231.1L510.4 269.6L257.5 231.3L429.2 231.6L238.9 540.9L525.1 233L188.7 513.7L226.7 541.9L407.8 231.6L352 269.9L186.8 514.9"/><path class="S" d="M570.3 235.3z"/><path class="r" d="M220.4 234.9L310.9 267L405.1 235.8L233 267.7L327.9 267.9L322.6 268.8L397.6 269.3"/><path class="S" d="M500.3 233.4z"/><path class="r" d="M230.6 230.9L314.4 500.9L379.6 525.4L288.6 231L432.2 235.8L384.8 235L384.2 231L315.5 268.1L468.2 270.3L291 541.9L385 268.1L294.8 514.6L298.8 237.8L235.4 501.9L253.8 501.5L217.8 525.7L261.8 559.5L494.4 268.3"/><path class="S" d="M285.1 514.3z"/><path class="r" d="M369.7 267.5L183.8 230.7L293.2 233L278.8 501.3"/><path class="S" d="M467.2 233.4z"/><path class="r" d="M492.7 268.1L321.1 231.9"/><path class="S" d="M687.4 270.2z"/><path class="r" d="M268.4 560.4L343.2 560.4L210.1 234.3L667.2 235L568.5 268.7"/><path class="S" d="M537.5 233.4z"/><path class="r" d="M291.2 235.5L225 267.5L187.1 237.2L533.7 268.8L315 230.7L293.5 526.1L476.9 233.2"/><path class="g" d="M334.6 268.1L627.4 270.2"/><path class="r" d="M197.2 238.4L248.9 525.5L307.2 525.9"/><path class="S" d="M637.9 232z"/><path class="r" d="M251.9 514.2L320.8 560.4L251.9 235.1L311 232.5L222.1 270.1L270 238.2L400.4 233.6L423.2 268.2L293.8 526.8L336.5 513.7L381.3 231.5L348.8 526.8L429.1 235.7L216.8 526.3L328.8 269.7"/><path class="S" d="M499.7 231.3z"/><path class="r" d="M229 237.8L309.9 232.1L522.6 268.8L243.6 231.7"/><path class="S" d="M472.5 231.4z"/><path class="r" d="M322.5 525.7L215.5 234.3L199.5 270.2"/><path class="S" d="M277.6 270.1z"/><path class="r" d="M375.2 269.8L499.2 270L186.8 235.9L320 234.9L279.8 236.9L328.2 540.7L289.9 526.8L620.8 234.3L304.5 501L299.8 540.6L203.7 1385L184.1 1457.7L264.5 267.8L266.8 526.8L241 541.7"/><path class="g" d="M468.1 232.2L588.5 268.2"/><path class="r" d="M287.2 540.7L406.9 267.4L292.5 269.5L307.5 232.8L429.7 269.2L353.6 232.6"/><path class="S" d="M494.1 234.3z"/><path class="r" d="M314.1 231.9L209.4 502.3L218.6 230.8L565.5 235.4"/><path class="g" d="M619.7 269.2L558.8 232.5L684.5 270.3"/><path class="r" d="M260 235.9L236.4 270L368.2 230.7L271.1 560.9L205.3 500.8L304.4 525.6L242.7 237.4L296.9 560.4L517.3 235.4L258.1 234.3"/><path class="S" d="M516.5 232.3z"/><path class="r" d="M307.5 268.6L443.5 231.9L435.4 235.9L307.9 269.5L488.7 268.3L279.4 501L207 270L679.2 234.4L410 267.4L306.2 501.5"/><path class="S" d="M612.9 231.9z"/><path class="r" d="M237.1 233.6L259.5 230.7L582.6 267.9L242.2 267.4L209.7 232.4L486.1 232.1L471.5 269.9L320.4 270.1L235.4 559.9L621.4 268.3L205.2 526.3L330.5 560.4L312.9 541.4L195 230.8L277.1 268.8"/><path class="S" d="M573.5 232.3z"/><path class="r" d="M331.2 525.9L533.3 231.4L605 269.2L400 230.9L366.9 234.3L299 269.1L266.9 560.4L245.7 514.8L667.3 269.6L537.8 268.3"/><path class="S" d="M297 232.7z"/><path class="r" d="M289.2 235L311.6 234.3L586.1 268.6L253.5 270L351.2 542L420.5 233.3L251.5 237L203.6 526.3L372.3 268.8L216.7 1380.7"/><path class="S" d="M587.5 270.4z"/><path class="R" d="M389.9 232.8z"/><path class="S" d="M361.7 270.7z"/><path class="r" d="M263.3 501.8L299.9 526.3L263.4 541L242.2 501.2L250.7 236.8L299.5 501.6L218.7 267.8L308.5 237.5L397.7 230.9L188.8 237.1L201.2 231L203.8 502"/><path class="S" d="M652.4 268.8z"/><path class="r" d="M276.4 267.6L399.3 268.5"/><path class="S" d="M547.3 234.2z"/><path class="r" d="M383.9 270.2L393.7 269L276.2 501.8"/><path class="g" d="M457.6 233.3L681.2 267.3"/><path class="r" d="M238 514.1L262 541.6L312.2 232.4L203.4 560.5"/><path class="S" d="M474.4 232.5z"/><path class="r" d="M420.2 268L377.1 268.3L513.6 232L432.4 269.5L250.9 232.9L236 526.2"/><path class="S" d="M498.1 268.5z"/><path class="r" d="M684 232.4L322.7 233.4L355.1 270.1L220.2 268.5L353.4 269.9"/><path class="g" d="M482.9 268.2L574.8 234"/><path class="r" d="M189.6 268.9L503 269.7L235.6 231.9L189.7 500.7L303 267.2L246.5 526.8L252.4 267.5L270.4 268.5L395.9 270.5L214.4 541L713.5 231.3L281.6 234.5L229.9 231.8"/><path class="S" d="M302.1 267.7z"/><path class="r" d="M300.6 514.2L745.3 233.9L338.9 231.8L283 542L316.4 269.7L356.3 268.6"/><path class="S" d="M451.3 231.6z"/><path class="r" d="M320.8 501.2L281.1 525.7L204.6 268.2"/><path class="g" d="M753.3 234.8L668.2 233.5"/><path class="r" d="M332.4 559.5L474 233.4L322.1 502.2L205.9 541.6"/><path class="S" d="M702.4 231.4z"/><path class="r" d="M289.8 559.5L245.6 232"/><path class="S" d="M675.9 232.4z"/><path class="r" d="M618.7 235.5L198.9 234L264.3 525.4L222.2 235.9L230.5 541.3L294.7 234.2L259.9 526.8L314.3 267L464.2 268.2L452.8 267.5L320.4 541"/><path class="S" d="M591.7 269.1z"/><path class="r" d="M299.2 232.3L487.4 235.5L370.2 235.6"/><path class="S" d="M650.9 268.6z"/><path class="r" d="M434.9 270.6L392.4 230.8"/><path class="S" d="M478.1 232.6z"/><path class="r" d="M231.1 234.6L664.2 233.4"/><path class="S" d="M575.5 233.1z"/><path class="r" d="M229.5 560L339.7 515L331.3 270.1L231.8 500.8L603.2 267.9L782.1 233.9L210.9 232"/><path class="S" d="M601.5 233.3z"/><path class="R" d="M323.6 237.3z"/><path class="S" d="M441.4 231.8z"/><path class="r" d="M231.7 270.6L238.8 500.9L438.6 235.5L234.2 231.7L316 233L282.4 501.2L363.4 526.6L465.4 232.3L628.4 233.9"/><path class="S" d="M441.2 267.4z"/><path class="r" d="M285.6 235.5L240.4 501.1L310.1 237.6L265.3 500.8L367.4 270.5L234.1 542L288.4 269L375.6 267L310.2 526.6L404.3 232L422.8 235.8L193.9 233.8L504.6 269L314.4 541.4"/><path class="S" d="M306.1 514.8z"/><path class="r" d="M631.3 269.9L409.2 266.9L563.6 267.7L457.9 269.9L324.7 501.4L245.7 233.6L220.9 526.9L207.5 269.2L308.4 559.5L658.5 235L508.4 267.8L600 231.1L257 233.1L218.8 235L347.7 237L263.5 231.3L211.2 1367"/><path class="S" d="M648.2 235.1z"/><path class="r" d="M297.6 267.9L249.2 267.4L290 269.9L301.4 231.6L325.8 268.7L224.2 514.5L266.9 234.3L662.6 231.2L605.1 234.9L186.4 232.5L205.2 235.8L336.5 559.6L317.5 238.4L410 234.3L329.5 267.1L294.5 1466.4L288.1 1523.8L331.4 1516.8L402.4 1497L276.4 1697.4L325 1518.2L338.1 1501.9L236.6 1736.2"/><path class="S" d="M339.4 1695.9z"/><path class="r" d="M221 1483.8L249.9 1487.6L225.7 1483.8L408 1711.3L202.2 1724.9L223.9 1671.9L234.5 1469.9L420 1497L208.8 1523.8L253.6 1520.3L247 1506.7L265.7 1519.6L263.9 1694.3"/><path class="S" d="M457.8 1518.2z"/><path class="r" d="M218.3 1494.6L213.7 1469.9L246.9 1494.6L246.6 1650.2"/><path class="S" d="M329.9 1708.3z"/><path class="R" d="M258.5 1483.8z"/><path class="g" d="M295.9 1494.6L392.3 1491.1"/><path class="R" d="M223.2 1509.5z"/><path class="S" d="M238.3 1599.3z"/><path class="R" d="M255.4 1513z"/><path class="S" d="M341.3 1687.1z"/><path class="r" d="M254.5 1469.9L231.2 1656.4L403.5 1506.7L250.9 1469.9L251.8 1506.7L206.2 1732.1L226.3 1523.8L283.9 1523.8L269.4 1468.1L286.9 1523.8"/><path class="S" d="M353.9 1497z"/><path class="r" d="M274 1613.4L249.4 1691.8L345.8 1518.2L203.8 1501.9"/><path class="g" d="M404.5 1730.8L256.1 1652.6"/><path class="r" d="M268.4 1494.6L240.1 1518.2L298.9 1523.8"/><path class="g" d="M246.7 1670.7L355.8 1657.3"/><path class="r" d="M325.6 1509.5L284.6 1713.5"/><path class="S" d="M290.6 1720.7z"/><path class="R" d="M214 1700z"/><path class="g" d="M488.4 1494.6L260.8 1691.9L234.4 1645.9"/><path class="r" d="M215.3 1442.8L200.2 1469.9L305.9 1520.3L214.8 1690.3L271.1 1523.8L239 1469.9L267.9 1651.8"/><path class="S" d="M319.6 1483.8z"/><path class="R" d="M221.2 1518.2z"/><path class="S" d="M368.8 1662.2z"/><path class="r" d="M262.5 1518.2L206.8 1518.2"/><path class="S" d="M306.3 1688.5z"/><path class="r" d="M195.7 1491.1L260.9 1520.3L214.1 1456L223.6 1651.9L417.4 1518.2L264.7 1513L241 1469.9L185.7 1523.8L363.4 1523.8"/><path class="S" d="M260.8 1647z"/><path class="r" d="M193.3 1520.3L251.8 1483.8L308.9 1513L344.3 1468.1"/><path class="S" d="M279.4 1663.3z"/><path class="R" d="M349.5 1487.6z"/><path class="S" d="M310 1658.6z"/><path class="R" d="M196.1 1523.8z"/><path class="S" d="M252.8 1709.5z"/><path class="r" d="M208.8 1509.5L244.1 1657.3"/><path class="g" d="M293.8 1737.4L494.7 1513L274.4 1690.4"/><path class="R" d="M190.5 1518.2z"/><path class="g" d="M321.5 1709.3L422.3 1713.3"/><path class="r" d="M235.2 1686.4L275.2 1469.9L233.8 1448.7L201.4 1520.3L361.3 1516.8L236.3 1518.2L468.4 1469.9L307.6 1518.2L185.3 1491.1L213.3 1520.3L301.9 1506.7L253.6 1650.7L224.7 1516.8L297.1 1646.2L211.4 1648.1L308.3 1459.5L260.7 1506.7L272.6 1711.7"/><path class="S" d="M229.4 1648.3z"/><path class="r" d="M357.3 1520.3L186.6 1509.5L437.4 1679.3L219.7 1651.4L227.3 1453.2"/><path class="S" d="M296.2 1673.4z"/><path class="R" d="M197.8 1509.5z"/><path class="S" d="M316 1660z"/><path class="r" d="M199.6 1523.8L197.3 1494.6L201.2 1509.5L222.6 1518.2L222.6 1491.1"/><path class="S" d="M433.1 1509.5z"/><path class="r" d="M204 1494.6L261.4 1684L228.5 1523.8L189 1674.2L220.9 1513L266.6 1647.4L385.7 1509.5L318.2 1491.1L220.7 1463.6"/><path class="g" d="M359.5 1669.6L308.7 1658.1"/><path class="r" d="M209.3 1681.9L338.8 1718.6L196.2 1516.8"/><path class="S" d="M391.7 1593.5z"/><path class="r" d="M348.3 1516.8L267.6 1699.6L273.2 1648.8L189.1 1513"/><path class="S" d="M303.8 1513z"/><path class="R" d="M263.5 1679.5z"/><path class="S" d="M251.1 1593.4z"/><path class="r" d="M251.6 1509.5L348.7 1732.5"/><path class="S" d="M316.8 1668.1z"/><path class="r" d="M196.6 1721.4L350.5 1483.8L229.2 1650.6L209.1 1463.6L256.8 1645.4L230.2 1444.2L199.2 1494.6L301.7 1469.9L226.8 1620.9L187.9 1523.8L353.5 1487.6L287.7 1509.5L350 1523.8L227.8 1509.5L217 1520.3L202 1650.9"/><path class="S" d="M303.2 1687z"/><path class="R" d="M203.3 1506.7z"/><path class="g" d="M332.8 1590.2L375.9 1730.9"/><path class="r" d="M315 1459.5L199.2 1509.5L260.4 1651.4"/><path class="S" d="M270.5 1487.6z"/><path class="r" d="M208.4 1598.1L235.3 1674.7L217.8 1509.5L218.7 1513L238.4 1487.6"/><path class="S" d="M410.2 1491.1z"/><path class="r" d="M233.1 1491.1L215.5 1653.9L235.8 1724.7L270.9 1513L484.3 1520.6"/><path class="g" d="M225 1737.3L316.4 1469.9"/><path class="r" d="M357.2 1509.5L220.4 1523.8L199.5 1519.6L289.9 1491.1"/><path class="S" d="M354.6 1497z"/><path class="r" d="M185.5 1501.9L288.6 1468.1L251.4 1497L191.7 1469.9"/><path class="S" d="M475.1 1675.3z"/><path class="r" d="M298.1 1595.8L300.5 1665.5L314.9 1518.9L200.6 1483.8L279.3 1494.6L187.8 1494.6L282.5 1518.2L295.6 1444.2L216.2 1469.9L279.2 1737.3L291.6 1469.9L236.5 1653L384.6 1519.6L285.7 1483.8"/><path class="S" d="M261.8 1737.3z"/><path class="r" d="M294.4 1665.9L194 1523.8"/><path class="S" d="M406.8 1525.8z"/><path class="r" d="M304.1 1469.9L333.5 1615.1L297.4 1509.5L237.6 1685.7L246.3 1509.5L264 1497L197.3 1469.9"/><path class="S" d="M245.3 1648.6z"/><path class="r" d="M382.2 1506.7L223.5 1653.9L213 1667.8"/><path class="S" d="M385.9 1494.6z"/><path class="r" d="M210 1469.9L229.9 1494.6L530.7 1494.6L237 1463.6L255.6 1694.3L229.2 1469.9"/><path class="S" d="M414 1491.1z"/><path class="r" d="M325.2 1494.6L240.3 1497L209.2 1719.9"/><path class="S" d="M257.1 1649.5z"/><path class="r" d="M216.2 1646.9L186.6 1520.3L294.7 1506.7L206.2 1645.7L393.5 1469.9L264.8 1723.1L222 1506.7L238.7 1523.8L228 1676.9L207 1601.4L229.6 1695.7L231 1469.9L232.1 1689.2L361.6 1509.5L228.7 1509.5L246 1469.9L232.7 1497L285.3 1468.1L223.3 1708.6L380.8 1469.9L238.4 1501.9L254.7 1732.9L237.7 1513"/><path class="g" d="M337.7 1523.8L325.7 1657.3"/><path class="r" d="M275.9 1497L272.4 1497L260.8 1487.6L299.7 1687.3L227.8 1437.6L379 1701.1L255.4 1494.6L190.9 1516.8L203.7 1497L313 1681.2L264.2 1491.1L247.5 1694.6L283.2 1487.6L200.8 1686.5L288.9 1501.9L265.7 1444.2"/><path class="S" d="M337.7 1487.6z"/><path class="r" d="M291.9 1695.1L186.9 1469.9L210.9 1518.9L190.4 1497L263.7 1513L332.9 1501.9L261.7 1468.1L279.5 1501.9"/><path class="S" d="M251.3 1668.4z"/><path class="r" d="M231.8 1665.8L185 1483.8L235.6 1509.5L201.7 1469.9L358.4 1726.2L388.6 1518.2L221.4 1723.7L201.6 1487.6L240.7 1509.5L222.1 1469.9L185.3 1518.2"/><path class="S" d="M251.6 1653.1z"/><path class="r" d="M196.2 1525.8L321.6 1509.5L229.7 1734.6"/><path class="S" d="M306.9 1666.6z"/><path class="r" d="M242.8 1670.3L302.5 1737.3L274 1700.8L427.2 1518.2L327.9 1523.8"/><path class="S" d="M377.7 1725.2z"/><path class="r" d="M235.6 1689.6L224.3 1506.7L245.5 1518.2L271.6 1448.7"/><path class="S" d="M433.3 1491.1z"/><path class="r" d="M306.5 1497L217.8 1689.9L273.7 1652L214.9 1523.8L221 1679.9L409.7 1518.2L207.5 1448.7"/><path class="S" d="M308.9 1646.4z"/><path class="r" d="M233.3 1518.2L231.3 1483.8"/><path class="g" d="M266.6 1659.1L317.2 1702.6"/><path class="r" d="M430.5 1497L212.9 1596.7L255 1518.9L196.8 1513L237.7 1520.3"/><path class="S" d="M345.4 1645.5z"/><path class="r" d="M201.4 1523.8L232.3 1444.2L232.6 1735.8L266.4 1523.8L244.9 1459.5L227 1491.1"/><path class="S" d="M321.1 1649.4z"/><path class="r" d="M245.2 1456L208.8 1469.9L390.6 1463.6L202.1 1513L348.8 1650.8L290.4 1693.3L296 1456L211.4 1513L360.2 1652.8L456 1523.8"/><path class="S" d="M252.7 1483.8z"/><path class="r" d="M292.9 1518.2L411.3 1494.6L231.4 1509.5L336.9 1675.6L295.5 1469.9L341.5 1520.6L424.4 1483.8"/><path class="g" d="M521.3 1487.6L417.7 1491.1L486.6 1647.4"/><path class="r" d="M211.2 1491.1L368.9 1494.6L366.6 1736.8"/><path class="g" d="M282.6 1509.5L265.2 1735.2L397.6 1483.8L244.5 1722.2"/><path class="R" d="M210 1513z"/><path class="S" d="M319.8 1513z"/><path class="r" d="M201.2 1444.2L198.9 1516.8L222.6 1497"/><path class="S" d="M378.1 1518.2z"/><path class="r" d="M228.9 1501.9L196.5 1698.9"/><path class="g" d="M473.5 1487.6L292.3 1602.7"/><path class="R" d="M199.8 1501.9z"/><path class="S" d="M348.6 1469.9z"/><path class="r" d="M223.6 1734.7L210.9 1653.7"/><path class="g" d="M328 1648.5L341.4 1721.4"/><path class="r" d="M215.3 1491.1L185.2 1513L264.2 1501.9L243.5 1453.2L280.3 1506.7L462.2 1469.9L260.1 1491.1"/><path class="S" d="M244.8 1494.6z"/><path class="r" d="M321.6 1696.6L311.4 1520.3L273.2 1525.8"/><path class="S" d="M362.8 1726.7z"/><path class="R" d="M393.2 1674.1z"/><path class="S" d="M309.8 1483.8z"/><path class="r" d="M329.7 1518.2L470.4 1523.8L207.6 1733L356.5 1453.2L402.8 1519.6"/><path class="g" d="M342.7 1491.1L425.2 1669.2"/><path class="R" d="M221.3 1657z"/><path class="S" d="M412.7 1678.8z"/><path class="r" d="M246.5 1456L248.1 1519.6L349.1 1518.2L214 1734.8"/><path class="S" d="M295.1 1649.2z"/><path class="r" d="M218.5 1694.8L212.1 1672.8L308.8 1487.6"/><path class="S" d="M364.7 1494.6z"/><path class="r" d="M289.2 1456L204.4 1668.3L261.4 1647.7"/><path class="g" d="M365.8 1646.2L250 1736.1"/><path class="R" d="M281.2 1463.6z"/><path class="S" d="M274.3 1657.5z"/><path class="r" d="M230.5 1518.2L226 1520.6L382.1 1704.6L234.5 1497L227.6 1612.8"/><path class="g" d="M232.9 1717.8L352.7 1469.9"/><path class="r" d="M205.7 1483.8L309.9 1506.7L240.7 1513L276.7 1523.8L320.9 1506.7L284.6 1483.8"/><path class="S" d="M298.7 1722.4z"/><path class="r" d="M218.6 1491.1L189.3 1653.7L225.1 1466.4L248.9 1648.9"/><path class="g" d="M294.2 1652.6L319.2 1469.9"/><path class="r" d="M254 1463.6L401 1513L195.2 1672.9L256.4 1600.6"/><path class="S" d="M346.9 1669.9z"/><path class="r" d="M420.5 1520.3L229.3 1466.4L272 1646.1"/><path class="g" d="M287.7 1648.6L302 1657.6"/><path class="R" d="M341 1491.1z"/><path class="S" d="M444.1 1701.4z"/><path class="r" d="M207.7 1453.2L319.9 1509.5L209.8 1456"/><path class="S" d="M228.6 1681.8z"/><path class="r" d="M229.6 1483.8L280.9 1469.9L277.2 1509.5L408.6 1513L231.1 1730.7L351.5 1509.5L369.7 1731.2L315.2 1518.2L215.9 1497L194.2 1513L355.7 1733.5L307.6 1651.6L216.1 1593.8L328 1506.7L439.9 1523.8L216.9 1456L217.8 1523.8L299.7 1483.8L269.6 1735.9L254.9 1705.1"/><path class="S" d="M422.2 1491.1z"/><path class="r" d="M458.4 1513L376.4 1518.2"/><path class="S" d="M265.7 1672.9z"/><path class="r" d="M213.7 1714.2L187.3 1491.1L308.3 1509.5L305.8 1491.1L395.8 1518.2L187.3 1483.8L460.3 1652.1L190.9 1506.7L225 1654.3"/><path class="S" d="M263.9 1710.9z"/><path class="r" d="M415.3 1691.1L263.4 1509.5L403.7 1509.5L235.9 1501.9L319.7 1487.6"/><path class="S" d="M354.6 1593.8z"/><path class="R" d="M246.3 1491.1z"/><path class="g" d="M423.3 1734.1L293.4 1673.3L304.1 1509.5"/><path class="r" d="M219.6 1701L200.5 1622.8L392 1468.1L428.1 1469.9L246.2 1487.6L291 1681.8"/><path class="S" d="M309.6 1669.8z"/><path class="R" d="M221.8 1720.3z"/><path class="S" d="M252 1676.3z"/><path class="r" d="M197.6 1650.9L208.3 1593.2L436.9 1733.3"/><path class="S" d="M367.1 1659.1z"/><path class="r" d="M408.8 1516.8L301 1491.1"/><path class="S" d="M402.6 1673.3z"/><path class="r" d="M268.1 1509.5L360.2 1525.8L433.1 1513L270.5 1590.2L238.1 1654.1L337.3 1520.3L300.6 1520.3L331.1 1520.3"/><path class="S" d="M275.2 1702.9z"/><path class="r" d="M278.4 1469.9L331.4 1513L402.5 1694.7L217.3 1506.7L314.7 1665.6L309.6 1594.9L271.5 1731.8L231 1712.9L198.6 1610.5L403.4 1468.1L254.2 1697.7L251 1463.6"/><path class="g" d="M268.1 1594.6L319.8 1497L306.9 1714.5"/><path class="r" d="M209.1 1497L279.8 1648L202.9 1491.1"/><path class="g" d="M470.4 1518.2L289.1 1651.8L312.7 1617.3"/><path class="r" d="M206.7 1444.2L301.2 1723.3L241.6 1487.6L260.8 1494.6"/><path class="S" d="M342.3 1494.6z"/><path class="r" d="M385.5 1516.8L341.7 1516.8L220.1 1728.1L271.1 1681.3L206.4 1735.7L206.9 1513L220.2 1689.3L322.7 1518.2L237.6 1437.6"/><path class="g" d="M377.7 1469.9L398.7 1651.3"/><path class="R" d="M213.5 1437.6z"/><path class="S" d="M293 1596.2z"/><path class="r" d="M262.9 1523.8L309.6 1597.1L333.2 1518.2"/><path class="g" d="M405.4 1732.3L254.9 1657.2"/><path class="r" d="M229.8 1653.6L400.9 1696.2"/><path class="S" d="M331.3 1654.1z"/><path class="R" d="M350.3 1672.2z"/><path class="g" d="M348 1655.1L450.5 1497"/><path class="r" d="M192.3 1469.9L267.8 1491.1L333 1523.8L201.8 1483.8L399.2 1525.8L195.3 1483.8L270.1 1469.9L244.4 1675.7"/><path class="S" d="M278 1689.4z"/><path class="R" d="M287.6 1491.1z"/><path class="S" d="M370.5 1652.2z"/><path class="r" d="M245.1 1513L312.4 1448.7"/><path class="g" d="M313.2 1658.7L430.2 1651.7L484.4 1487.6"/><path class="R" d="M219.4 1708.7z"/><path class="S" d="M277.7 1652.5z"/><path class="r" d="M234 1491.1L232.3 1513L219.4 1453.2L210.1 1523.8L261.5 1448.7"/><path class="g" d="M274 1598L305.9 1494.6"/><path class="R" d="M210.7 1688.5z"/><path class="S" d="M375.5 1600z"/><path class="r" d="M400.8 1494.6L252.4 1737.7"/><path class="S" d="M287.5 1646.8z"/><path class="r" d="M401.7 1645.9L234.2 1513"/><path class="S" d="M414.1 1610.8z"/><path class="R" d="M248 1611.2z"/><path class="g" d="M224.6 1649.5L413.7 1459.5L471.1 1649.2"/><path class="R" d="M263.8 1501.9z"/><path class="S" d="M330.6 1506.7z"/><path class="r" d="M241.2 1448.7L295.6 1670.3L288.8 1437.6L359.3 1523.8"/><path class="S" d="M435.7 1523.8z"/><path class="r" d="M240.5 1491.1L474 1469.9L224 1456L340.9 1487.6L358.8 1513"/><path class="S" d="M316.2 1715.2z"/><path class="R" d="M354 1701z"/><path class="S" d="M336 1469.9z"/><path class="r" d="M255.7 1714.1L323.9 1469.9L197 1520.3L384.4 1487.6L422.7 1513L253.3 1513"/><path class="S" d="M369.7 1648.1z"/><path class="r" d="M228.2 1645.8L291.8 1494.6"/><path class="S" d="M437.2 1509.5z"/><path class="r" d="M210.1 1525.8L221.6 1487.6L464.5 1523.8L223 1513L274.4 1737L294.3 1718.1L217.3 1453.2"/><path class="S" d="M234.9 1599.8z"/><path class="r" d="M186.4 1516.8L253.6 1509.5L355 1444.2L301.3 1712.8L199.4 1506.7"/><path class="S" d="M327.3 1668.6z"/><path class="R" d="M274.3 1456z"/><path class="S" d="M305.8 1594.1z"/><path class="r" d="M264.6 1469.9L242.1 1665.7"/><path class="S" d="M278 1703.6z"/><path class="R" d="M312.8 1668.9z"/><path class="g" d="M217.3 1710.9L254.8 1646.4"/><path class="r" d="M329.1 1735.7L249.7 1518.2L282.5 1690.3L317.3 1501.9L315.9 1448.7"/><path class="S" d="M257 1659.5z"/><path class="r" d="M218.6 1653.9L187.5 1610.4L276.8 1664L236.2 1506.7"/><path class="S" d="M283.7 1494.6z"/><path class="r" d="M285.6 1513L276.1 1655.8"/><path class="g" d="M459.2 1509.5L318.8 1674.2"/><path class="r" d="M298.8 1676.7L201.5 1697.8"/><path class="S" d="M478.2 1494.6z"/><path class="r" d="M275.3 1523.8L269.6 1513"/><path class="S" d="M274.1 1721.6z"/><path class="r" d="M214 1525.8L246.1 1469.9"/><path class="g" d="M319.7 1456L248.7 1723"/><path class="R" d="M325 1483.8z"/><path class="S" d="M379.4 1497z"/><path class="R" d="M244.3 1523.8z"/><path class="S" d="M264.8 1453.2z"/><path class="R" d="M291.6 1650.6z"/><path class="S" d="M313.4 1494.6z"/><path class="r" d="M398.2 1509.5L424 1469.9L391.1 1497"/><path class="S" d="M332 1463.6z"/><path class="r" d="M240.6 1648.6L225.8 1729.8"/><path class="S" d="M393.1 1491.1z"/><path class="r" d="M194.5 1509.5L345.1 1497"/><path class="S" d="M303.8 1662.1z"/><path class="r" d="M204.1 1509.5L377.6 1466.4L311.8 1717.7L251.1 1448.7L231.3 1654.4L196.4 1731.5L309.2 1647L241.4 1437.6L241 1506.7L192.2 1656.3"/><path class="S" d="M278.4 1513z"/><path class="r" d="M211.8 1707.7L304.2 1589.6L220.6 1712.6L301.3 1501.9L331.2 1469.9L315.7 1459.5L247.1 1442.8L478.4 1506.7L302.5 1494.6"/><path class="S" d="M315.5 1648.4z"/><path class="r" d="M236.1 1649.6L310.4 1523.8L274.5 1509.5L258.8 1513L218.9 1487.6L209.7 1501.9L244 1466.4L357 1483.8L414.1 1494.6L221.9 1734.5L312.7 1501.9L206.4 1453.2L206.6 1678.8L476.3 1520.3"/><path class="S" d="M267.1 1688.5z"/><path class="r" d="M261.5 1487.6L218.7 1459.5L255.8 1466.4L271.6 1658.1L218.9 1731"/><path class="S" d="M384 1491.1z"/><path class="r" d="M245.6 1650.8L446.5 1491.1L268.3 1719.1L361.3 1469.9L324.4 1674.7L222.9 1523.8"/><path class="g" d="M311 1610.6L297.5 1518.2"/><path class="r" d="M249.5 1710.3L272.2 1463.6L257.5 1491.1L240.8 1442.8L333 1437.6L210.1 1487.6L255.2 1469.9L372.9 1513L266.6 1690.6"/><path class="g" d="M464.8 1501.9L328.3 1650.7"/><path class="R" d="M323.1 1513z"/><path class="g" d="M301.7 1610L308.7 1704L437.8 1491.1"/><path class="r" d="M214.3 1674.6L230.9 1456"/><path class="g" d="M262.5 1670.5L253.8 1612.6"/><path class="R" d="M192.7 1487.6z"/><path class="g" d="M355.6 1649.6L314.5 1491.1"/><path class="r" d="M216 1704.2L237.8 1506.7L400.1 1469.9L228 1677.5L226.8 1646.8"/><path class="S" d="M290.9 1675.7z"/><path class="r" d="M196.8 1487.6L283.4 1513L236.3 1483.8L493.6 1683.3"/><path class="g" d="M418 1513L397 1501.9"/><path class="R" d="M219.7 1469.9z"/><path class="S" d="M481.8 1469.9z"/><path class="R" d="M368.7 1523.8z"/><path class="g" d="M342.6 1707.7L356.5 1483.8"/><path class="R" d="M214.6 1487.6z"/><path class="S" d="M410.6 1730.5z"/><path class="r" d="M336.1 1700.8L291.7 1734.9L250.9 1732.5L273.1 1725.3"/><path class="S" d="M264.6 1598.2z"/><path class="R" d="M232.8 1615z"/><path class="S" d="M421.1 1506.7z"/><path class="r" d="M282 1520.6L237.8 1710.4"/><path class="g" d="M370 1523.8L295.9 1518.2L315.8 1491.1"/><path class="r" d="M221 1684.4L190.4 1509.5"/><path class="S" d="M329.4 1699.6z"/><path class="R" d="M207.4 1518.2z"/><path class="S" d="M392.5 1707.6z"/><path class="r" d="M271.2 1453.2L296.2 1463.6"/><path class="S" d="M407.4 1506.7z"/><path class="r" d="M291.9 1501.9L211.4 1650.8L375.7 1513L216.2 1501.9L380.4 1483.8L240.4 1483.8"/><path class="S" d="M368.3 1714.3z"/><path class="R" d="M276.2 1466.4z"/><path class="S" d="M246.1 1703.1z"/><path class="r" d="M185.3 1469.9L245.2 1732.5L231.1 1437.6"/><path class="g" d="M304.9 1453.2L438.5 1676.6L310.3 1703.5"/><path class="r" d="M280.9 1442.8L403.9 1483.8"/><path class="S" d="M388 1469.9z"/><path class="r" d="M260.8 1509.5L240.4 1523.8L292.6 1682.1L231.9 1506.7L214 1681.8L218.9 1684.1"/><path class="S" d="M346 1649.8z"/><path class="r" d="M269.3 1516.8L210.4 1497L218.9 1516.8"/><path class="g" d="M310 1706.8L473.9 1518.2"/><path class="R" d="M215.2 1444.2z"/><path class="g" d="M412.7 1704.7L257.9 1727.9L251.9 1698.7"/><path class="R" d="M291.1 1723.2z"/><path class="S" d="M356.1 1734.3z"/><path class="r" d="M324.7 1523.8L187.9 1506.7L231 1657.3L199.4 1658.2L338.9 1494.6L454.3 1487.6L280.1 1690.9L248.3 1646.8L317.8 1487.6"/><path class="S" d="M241.8 1730.3z"/><path class="r" d="M353.8 1651.4L221.8 1653.5L199.7 1491.1L244.6 1706.2L308.9 1698.5"/><path class="S" d="M362.8 1494.6z"/><path class="r" d="M317.8 1444.2L315.5 1720.4L250.7 1590.2"/><path class="S" d="M393.6 1506.7z"/><path class="r" d="M313.2 1506.7L338.7 1689.2L269.5 1523.8L412.5 1523.8L224.5 1593.9"/><path class="S" d="M234.5 1727.2z"/><path class="r" d="M201.4 1647.3L226.8 1722.5L301.2 1513"/><path class="S" d="M256.7 1721.4z"/><path class="R" d="M231.8 1648.7z"/><path class="S" d="M342.6 1594.7z"/><path class="r" d="M250 1523.8L252.6 1491.1L277.9 1518.2"/><path class="S" d="M324.8 1647.1z"/><path class="r" d="M334 1668.4L252.3 1497L263.2 1697.8"/><path class="g" d="M256 1665.9L328 1646.5"/><path class="r" d="M214.7 1509.5L362.4 1506.7L355.5 1685.4"/><path class="S" d="M258.4 1593z"/><path class="r" d="M430.1 1506.7L425.6 1523.8"/><path class="S" d="M487.8 1469.9z"/><path class="r" d="M373.8 1518.2L188.3 1657.6L251.8 1513"/><path class="g" d="M285.4 1704.3L322.8 1491.1"/><path class="r" d="M310.3 1501.9L219.1 1674.9"/><path class="S" d="M560.2 1497z"/><path class="r" d="M244.6 1444.2L218 1675"/><path class="S" d="M392.5 1722.4z"/><path class="r" d="M186.7 1683.3L519.5 1520.6L365.2 1680.9"/><path class="S" d="M278.6 1596.6z"/><path class="r" d="M208.4 1483.8L313.2 1652.8L227.1 1459.5"/><path class="S" d="M345.9 1687.1z"/><path class="r" d="M333.3 1497L283.7 1694.3L310 1509.5L285.5 1729.3L222.2 1459.5L219.4 1509.5L288.3 1649.2L220.6 1497"/><path class="S" d="M381.7 1688.8z"/><path class="r" d="M235.7 1516.8L228.5 1611.1L297.3 1513L265.3 1692.2"/><path class="S" d="M377.2 1618.2z"/><path class="R" d="M219.7 1525.8z"/><path class="S" d="M267.3 1704.5z"/><path class="r" d="M208.2 1653.9L339.1 1459.5L236.3 1679.2L240.6 1714.4L487.5 1518.2L294.4 1599.1L217.7 1600.8"/><path class="S" d="M400.7 1518.2z"/><path class="r" d="M362.2 1676.6L192.7 1494.6L388.9 1483.8L322.7 1664.8"/><path class="g" d="M335.8 1672.8L319.6 1453.2"/><path class="R" d="M278.5 1487.6z"/><path class="S" d="M259.9 1732.7z"/><path class="r" d="M207.5 1697.4L387.1 1695.7L247.2 1525.8L233 1466.4L259.4 1516.8L199.7 1727.5L424.1 1519.6"/><path class="S" d="M322.8 1650.2z"/><path class="r" d="M247 1513L221.9 1491.1"/><path class="g" d="M304.9 1585.4L365.9 1487.6"/><path class="r" d="M405.3 1494.6L217.9 1724.3L245.1 1501.9L288.9 1487.6L262.8 1483.8L332 1494.6L357.4 1501.9L286.7 1715.3L212 1509.5L245 1516.8L381.5 1491.1"/><path class="S" d="M330.1 1600.8z"/><path class="R" d="M205.2 1598.5z"/><path class="S" d="M463.6 1497z"/><path class="r" d="M204.2 1585.7L215.6 1466.4"/><path class="S" d="M376.2 1712.9z"/><path class="r" d="M300.5 1456L197.1 1617L239.6 1701.3L268.3 1448.7L203.4 1613L229.4 1601"/><path class="g" d="M466.2 1523.8L534.5 1491.1L450 1737.5"/><path class="R" d="M234.8 1523.8z"/><path class="g" d="M457.2 1491.1L466.1 1680.2L322.5 1704.3"/><path class="R" d="M206.9 1716.2z"/><path class="S" d="M377.7 1722.5z"/><path class="r" d="M312.1 1463.6L426.5 1513"/><path class="S" d="M376.3 1647.7z"/><path class="R" d="M372.4 1731.5z"/><path class="g" d="M429 1620L512 1494.6L412.1 1509.5L380.6 1651.2"/><path class="R" d="M240.7 1516.8z"/><path class="S" d="M219.8 1704.6z"/><path class="r" d="M276.8 1682.4L199.2 1525.8L384.6 1647.2L206.7 1726.5L224.3 1687.3L227.5 1652.5"/><path class="S" d="M388.3 1513z"/><path class="r" d="M198.1 1513L280 1525.8"/><path class="S" d="M399.9 1720.2z"/><path class="r" d="M276.1 1601.2L262.9 1453.2L264.5 1704L205.3 1506.7L382.7 1677.5"/><path class="g" d="M353.5 1688.7L306.6 1491.1"/><path class="r" d="M363.9 1444.2L264.1 1442.8"/><path class="g" d="M434.9 1469.9L255.1 1690.5L424.9 1646.9"/><path class="r" d="M310.3 1444.2L229.6 1732.1"/><path class="S" d="M415.4 1654.1z"/><path class="R" d="M204 1523.8z"/><path class="S" d="M415.5 1673z"/><path class="r" d="M383.8 1649.2L222.8 1501.9L279.2 1693.5"/><path class="S" d="M328.6 1689.1z"/><path class="r" d="M203.9 1581.3L206.2 1487.6L243.3 1442.8L239.3 1497L390.3 1509.5L251.9 1649.9"/><path class="S" d="M466.2 1469.9z"/><path class="r" d="M269.5 1727.8L251.3 1679.3"/><path class="g" d="M464 1580.6L282.8 1469.9L295.8 1487.6"/><path class="R" d="M216.8 1581.5z"/><path class="S" d="M383.3 1483.8z"/><path class="R" d="M290.9 1497z"/><path class="S" d="M474.8 1491.1z"/><path class="r" d="M498.6 1513L226.1 1525.8"/><path class="S" d="M369.7 1698.3z"/><path class="r" d="M215.6 1501.9L311.3 1513"/><path class="S" d="M287.1 1722.1z"/><path class="r" d="M267.1 1520.6L338.7 1463.6L207.8 1646.7"/><path class="S" d="M345.1 1596.2z"/><path class="r" d="M191.5 1523.8L280.5 1675.1"/><path class="S" d="M484.9 1733.8z"/><path class="r" d="M271 1437.6L193.6 1501.9L293.1 1509.5L393.7 1691.3L219.6 1501.9L233.3 1650.9L367.6 1483.8L229.9 1513L213.5 1448.7L201 1728.5"/><path class="g" d="M227.5 1726.1L427.3 1598.1L268.7 1702.2"/><path class="r" d="M231.1 1463.6L247.4 1665.9L285.6 1720.7L199.8 1696.3"/><path class="S" d="M468.5 1684.8z"/><path class="r" d="M258.5 1523.8L438.5 1518.2L262.6 1497L207 1469.9L408.2 1497"/><path class="S" d="M362.4 1656.8z"/><path class="R" d="M328.5 1513z"/><path class="S" d="M369.4 1513z"/><path class="r" d="M222.3 1589.7L270.5 1506.7L248.6 1717.3L266.7 1675.9"/><path class="S" d="M281.3 1731.3z"/><path class="r" d="M202.4 1686.1L188.7 1513L270 1518.2"/><path class="S" d="M324.5 1702.2z"/><path class="r" d="M213.4 1708.6L333.1 1469.9"/><path class="S" d="M413.4 1653.2z"/><path class="r" d="M186.1 1525.8L369.9 1518.2L270.9 1491.1L332.4 1509.5"/><path class="g" d="M354.3 1651.6L232.4 1725.1"/><path class="r" d="M244.2 1592.7L341.9 1726.6"/><path class="S" d="M281.6 1734.5z"/><path class="r" d="M246.7 1660.4L230.5 1487.6"/><path class="S" d="M416.3 1483.8z"/><path class="R" d="M281.1 1714.1z"/><path class="S" d="M305.5 1646.3z"/><path class="r" d="M253.6 1453.2L242.9 1618L248.1 1444.2L380.4 1720.9L230.7 1620.7L250.6 1459.5"/><path class="S" d="M439.3 1469.9z"/><path class="R" d="M211.6 1459.5z"/><path class="S" d="M370 1525.8z"/><path class="r" d="M233.1 1731.5L249.1 1622.7L233.6 1602.4"/><path class="g" d="M290.7 1483.8L257.9 1702.2"/><path class="r" d="M253.9 1487.6L218.5 1686.3"/><path class="S" d="M309.2 1487.6z"/><path class="R" d="M274 1491.1z"/><path class="S" d="M304.8 1672.3z"/><path class="r" d="M236.6 1448.7L212.5 1463.6"/><path class="S" d="M238.4 1721.5z"/><path class="R" d="M281.8 1509.5z"/><path class="S" d="M323.2 1665z"/><path class="r" d="M314.4 1469.9L497.3 1469.9L342.1 1513"/><path class="S" d="M442.7 1501.9z"/><path class="r" d="M233.2 1523.8L215.8 1596.2L388.9 1491.1L356.2 1437.6L258.8 1724.9L314.8 1453.2L210.1 1448.7"/><path class="S" d="M307.5 1725.9z"/><path class="r" d="M227.7 1732.9L285.6 1456L209.7 1491.1L346.6 1506.7L226.3 1690.6"/><path class="S" d="M246.1 1709.7z"/><path class="r" d="M354.8 1501.9L439.8 1491.1"/><path class="g" d="M400.5 1684.8L482.9 1650.1"/><path class="r" d="M211.3 1696.5L258.9 1468.1L341 1469.9L393.9 1598.1L204 1525.8L250.1 1437.6L257.9 1729.5L205.4 1663.9L352.4 1647.1L278.4 1688"/><path class="g" d="M294.1 1663.6L393.5 1648L388.4 1726.5"/><path class="R" d="M342.8 1444.2z"/><path class="g" d="M297.3 1651.5L321.6 1592.7"/><path class="r" d="M246.3 1516.8L254.1 1654.4L274.1 1513L206.2 1516.8"/><path class="g" d="M435.8 1483.8L332.5 1483.8"/><path class="r" d="M327.4 1448.7L255.9 1456"/><path class="g" d="M241.2 1678.2L252.1 1700.5L460.8 1525.8L280.1 1673.6L290.2 1726.4"/><path class="r" d="M229.3 1463.6L225.8 1469.9L250.2 1721.7L268.3 1459.5"/><path class="g" d="M274.8 1665.1L392 1506.7"/><path class="r" d="M350 1494.6L226.5 1487.6L225.1 1494.6L207.4 1672.6L308.7 1506.7"/><path class="S" d="M344.5 1506.7z"/><path class="r" d="M289.1 1518.9L194.4 1717.7L186.9 1487.6L300.7 1594.8L201.5 1674.6L295.4 1659.8L227.4 1688.4L219 1733.8L199.9 1710.1L252.9 1523.8L247.3 1726.2L451.3 1506.7L575 1487.6L345 1513"/><path class="S" d="M371.7 1469.9z"/><path class="r" d="M273.6 1519.6L275.6 1692.6L266.8 1456L313.6 1728.1"/><path class="S" d="M437 1665.8z"/><path class="r" d="M210.1 1593.6L238.3 1649.3"/><path class="S" d="M374.2 1698.1z"/><path class="R" d="M196.7 1648.6z"/><path class="S" d="M287.5 1666.4z"/><path class="R" d="M243.8 1509.5z"/><path class="S" d="M307.7 1617.3z"/><path class="r" d="M270.8 1509.5L193.8 1677L207.1 1664.6"/><path class="S" d="M330.6 1646.5z"/><path class="r" d="M239.2 1663.4L250.5 1650.2"/><path class="S" d="M223.2 1676z"/><path class="r" d="M319.2 1523.8L197.3 1716.5"/><path class="g" d="M241.7 1690.1L253.9 1506.7"/><path class="R" d="M230 1448.7z"/><path class="S" d="M221 1662.2z"/><path class="r" d="M190.8 1483.8L217.3 1726.2L376.9 1494.6"/><path class="S" d="M481.4 1653.3z"/><path class="R" d="M340.5 1497z"/><path class="S" d="M323.8 1596.8z"/><path class="r" d="M303.5 1669.4L446 1707.7L189.4 1487.6"/><path class="S" d="M348.6 1597.9z"/><path class="R" d="M212.3 1516.8z"/><path class="S" d="M291.6 1668.2z"/><path class="r" d="M430 1483.8L417.9 1525.8L368.6 1520.3L189.3 1491.1L293 1523.8L273.8 1448.7L403.9 1444.2L285.9 1663.2L229.6 1727.5L213.2 1513L233.4 1589.8"/><path class="S" d="M311.7 1497z"/><path class="r" d="M296.4 1453.2L391.8 1518.2L287 1516.8L201.8 1702.3L235.4 1731.7"/><path class="S" d="M378.2 1491.1z"/><path class="R" d="M256.5 1731.1z"/><path class="g" d="M404.2 1682.1L363 1469.9"/><path class="r" d="M259.9 1647.4L234.4 1610.8L283.8 1453.2L340.3 1501.9L190.6 1665.2L209.9 1516.8L313.7 1513"/><path class="S" d="M255.2 1716.4z"/><path class="r" d="M483.1 1660.8L198.9 1651.3"/><path class="S" d="M268.7 1680.2z"/><path class="r" d="M370.3 1506.7L458.8 1660.7L207 1594.4L186 1494.6L278.2 1453.2L413.4 1520.3"/><path class="S" d="M252.2 1730.8z"/><path class="r" d="M325.9 1487.6L265.1 1678.9L298.4 1491.1L252.4 1459.5L293.3 1506.7L270.7 1444.2"/><path class="S" d="M274.8 1617.5z"/><path class="r" d="M362.6 1459.5L430 1466.4L208.9 1506.7L369.6 1727.9L237.1 1448.7L250 1660.9"/><path class="S" d="M418.9 1593.8z"/><path class="R" d="M281.3 1466.4z"/><path class="g" d="M227.4 1709.8L212.8 1675.4"/><path class="R" d="M222 1672.2z"/><path class="g" d="M243.4 1615.8L259.4 1675.2L262.1 1596.7"/><path class="r" d="M399.3 1506.7L242.6 1736.8L421.8 1612.8"/><path class="S" d="M236.8 1728.5z"/><path class="r" d="M215.9 1586.1L231.7 1453.2L295.6 1691.3L326.8 1731.4L230 1491.1"/><path class="S" d="M275.1 1686.1z"/><path class="r" d="M212.6 1456L356.7 1654L189.1 1682.9"/><path class="S" d="M398.5 1491.1z"/><path class="r" d="M304.4 1483.8L317.1 1453.2"/><path class="g" d="M458.8 1691.4L471.8 1491.1"/><path class="R" d="M372.1 1491.1z"/><path class="S" d="M501.1 1491.1z"/><path class="R" d="M258.1 1737.2z"/><path class="g" d="M317.2 1736.4L256 1712.6L366.9 1442.8L296.2 1523.8"/><path class="r" d="M494 1491.1L339.1 1513L241.9 1704.4L231.2 1459.5"/><path class="S" d="M493.4 1654z"/><path class="r" d="M219.1 1645.7L230.9 1698.7L284.4 1685.3L271.5 1483.8L201.7 1662.5L300.1 1516.8"/><path class="S" d="M351.2 1444.2z"/><path class="r" d="M274.5 1483.8L425.6 1497"/><path class="S" d="M456 1483.8z"/><path class="r" d="M447 1518.2L411.3 1469.9"/><path class="S" d="M306.8 1711.2z"/><path class="r" d="M335.7 1506.7L286.3 1520.3L236.7 1673.7"/><path class="g" d="M286.9 1691.8L298.3 1597.8L249.2 1674.9"/><path class="r" d="M275.7 1487.6L348.7 1676.6L321.9 1698.8L371 1501.9"/><path class="g" d="M396.8 1730.1L282.8 1651.4L232.8 1693.8"/><path class="R" d="M230.2 1729.7z"/><path class="S" d="M280.1 1652.2z"/><path class="r" d="M305 1506.7L255.3 1516.8"/><path class="S" d="M307.6 1737z"/><path class="R" d="M242.8 1501.9z"/><path class="S" d="M373.1 1691.5z"/><path class="r" d="M271.9 1516.8L210 1698.6L232.5 1442.8L444.6 1494.6L350 1525.8L302 1650.2L207.8 1727.2L393.2 1459.5"/><path class="S" d="M349.6 1704.9z"/><path class="R" d="M255.9 1506.7z"/><path class="g" d="M232 1676.9L277.8 1649.8"/><path class="r" d="M447.7 1513L303.9 1724.2L376.9 1509.5L303.5 1660.4"/><path class="g" d="M250.4 1657.2L291 1645.8"/><path class="r" d="M255.4 1459.5L292.4 1463.6L291.3 1719.8L216.1 1590"/><path class="S" d="M430.8 1672.7z"/><path class="R" d="M225.5 1714.3z"/><path class="S" d="M306.5 1453.2z"/><path class="r" d="M298.8 1469.9L441.8 1683.9"/><path class="g" d="M304.8 1648.9L457.9 1665.8"/><path class="R" d="M214.8 1697.6z"/><path class="g" d="M498.5 1523.8L380 1661.8L407.1 1656.6"/><path class="R" d="M281.3 1667.7z"/><path class="S" d="M253 1693.8z"/><path class="R" d="M326.7 1597.4z"/><path class="S" d="M416 1509.5z"/><path class="R" d="M266.6 1509.5z"/><path class="S" d="M498.7 1483.8z"/><path class="r" d="M330.1 1487.6L397.5 1494.6L238.3 1509.5"/><path class="g" d="M395.9 1679.3L325.9 1683.8L281.5 1658.9"/><path class="R" d="M223.7 1660.3z"/><path class="S" d="M283.9 1491.1z"/><path class="r" d="M254.3 1466.4L318.6 1501.9"/><path class="S" d="M252.7 1670.8z"/><path class="R" d="M230.5 1714.1z"/><path class="g" d="M444.3 1717.3L353.9 1717.4"/><path class="r" d="M444 1690.3L204.8 1491.1L316.2 1456L231.5 1682.4L244.6 1506.7L421.3 1469.9L209.3 1714"/><path class="S" d="M405 1716.8z"/><path class="R" d="M193.2 1483.8z"/><path class="S" d="M412.7 1650.5z"/><path class="r" d="M209.7 1647.5L220.2 1695.9L273.1 1516.8L232.5 1662.5L312.3 1717.5L207.9 1444.2L274.4 1717.7L231.9 1670.6L299.1 1663.5L383.4 1520.3L417.5 1453.2L243.4 1654.4L262.6 1603"/><path class="S" d="M392.6 1599.6z"/><path class="r" d="M475.4 1497L336.8 1667.7L336.7 1466.4L205.8 1652L211.9 1506.7"/><path class="S" d="M363.6 1732.8z"/><path class="R" d="M208 1442.8z"/><path class="S" d="M468.3 1497z"/><path class="r" d="M312 1468.1L443.2 1518.9L360.1 1523.8L400.8 1448.7L256.4 1501.9L344.4 1483.8L242.7 1711.6L291.4 1442.8L292 1437.6"/><path class="S" d="M287.1 1525.8z"/><path class="R" d="M361.3 1711.9z"/><path class="S" d="M449.5 1483.8z"/><path class="r" d="M410 1459.5L215.2 1702.6"/><path class="S" d="M246.6 1523.8z"/><path class="r" d="M463.9 1513L202.5 1597.6L276.9 1494.6"/><path class="S" d="M312.1 1523.8z"/><path class="R" d="M327.4 1469.9z"/><path class="g" d="M299.8 1622.4L291 1709.4L423.2 1677"/><path class="r" d="M471.2 1513L274.7 1708L201.1 1711.8L374.8 1501.9"/><path class="g" d="M223 1731.7L259.9 1599.1"/><path class="R" d="M320.9 1647.6z"/><path class="g" d="M234.6 1594.9L368.4 1491.1"/><path class="r" d="M240.3 1459.5L217.6 1619.9L193.8 1663.3L264.3 1651.7L314.3 1509.5"/><path class="g" d="M214.9 1600.6L316.1 1688.9"/><path class="R" d="M308.7 1720z"/><path class="S" d="M399.9 1680.9z"/><path class="R" d="M233.5 1596.6z"/><path class="S" d="M278.5 1719.1z"/><path class="R" d="M268.5 1466.4z"/><path class="S" d="M346.8 1671.9z"/><path class="r" d="M248.1 1483.8L210.8 1444.2"/><path class="S" d="M393.2 1646.1z"/><path class="R" d="M464.6 1509.5z"/><path class="S" d="M333.9 1667.4z"/><path class="r" d="M321.3 1685.5L382.1 1513L337.2 1509.5L330.1 1459.5L386.3 1483.8L229.2 1506.7L290.1 1592.6"/><path class="g" d="M290.7 1597.7L260.1 1721.4"/><path class="r" d="M224.9 1646.8L299.9 1525.8"/><path class="S" d="M268.2 1597.1z"/><path class="r" d="M373.3 1710.8L251.3 1713.2L212.1 1453.2L315.4 1497"/><path class="S" d="M317 1651.3z"/><path class="r" d="M315.6 1656L403.6 1523.8L227.4 1444.2L335 1491.1L493 1509.5"/><path class="S" d="M464.2 1652.5z"/><path class="R" d="M223.3 1697.1z"/><path class="S" d="M319.5 1669.5z"/><path class="R" d="M256 1685.3z"/><path class="S" d="M412.6 1647z"/><path class="r" d="M242.6 1683.5L241.7 1444.2"/><path class="g" d="M262.5 1613.2L306.5 1676.7"/><path class="R" d="M387.1 1494.6z"/><path class="S" d="M335.3 1442.8z"/><path class="r" d="M293.9 1660.9L426.4 1523.8L319.2 1520.3"/><path class="S" d="M450.4 1647.9z"/><path class="r" d="M198.5 1679.9L209.9 1487.6L297.6 1497"/><path class="g" d="M324.5 1513L267.9 1695.3L274.4 1585.8L286.8 1733.4"/><path class="r" d="M365.4 1716.5L224 1453.2L226.1 1506.7L475.6 1506.7L296.9 1459.5"/><path class="S" d="M401 1523.8z"/><path class="r" d="M343.6 1520.3L353.5 1501.9"/><path class="S" d="M284.4 1661.6z"/><path class="r" d="M367.5 1468.1L273.8 1506.7L233.6 1456"/><path class="S" d="M439.2 1677z"/><path class="r" d="M246 1599.3L232.8 1646.3"/><path class="S" d="M289.2 1704.8z"/><path class="r" d="M207 1709.5L263.4 1708.6"/><path class="S" d="M316.8 1645.8z"/><path class="R" d="M225.8 1693z"/><path class="S" d="M286.4 1670.7z"/><path class="R" d="M285.1 1448.7z"/><path class="S" d="M308.1 1722.8z"/><path class="r" d="M402.2 1650.3L271.5 1653.8L289.6 1729.9"/><path class="S" d="M249.6 1671.9z"/><path class="r" d="M296 1654.1L239.4 1724L193.6 1506.7"/><path class="S" d="M340.6 1670.6z"/><path class="R" d="M207.1 1610.5z"/><path class="S" d="M249.3 1645.6z"/><path class="r" d="M301.8 1523.8L338.3 1459.5L223.8 1444.2L191.8 1732.5"/><path class="S" d="M237.4 1671.4z"/><path class="R" d="M280.9 1513z"/><path class="g" d="M348.3 1670.3L306.6 1599.8L257.6 1673"/><path class="r" d="M304.6 1678.4L240 1483.8"/><path class="g" d="M278.8 1735.1L446 1506.7L267.4 1653"/><path class="r" d="M382.7 1523.8L259.3 1463.6"/><path class="g" d="M381.1 1650.9L389.2 1645.4L338.8 1730.6"/><path class="r" d="M234.9 1706.3L330.5 1706.4L307.1 1730.2L206 1466.4"/><path class="S" d="M305.3 1650.7z"/><path class="r" d="M373.2 1469.9L318.5 1459.5"/><path class="S" d="M302.3 1463.6z"/><path class="r" d="M425 1463.6L214.1 1483.8"/><path class="S" d="M217.5 1697.2z"/><path class="r" d="M213.6 1453.2L223.6 1483.8L432.2 1506.7L436.7 1518.2"/><path class="S" d="M321.3 1682.3z"/><path class="r" d="M226.1 1680.6L265.9 1653.3L280.1 1523.8L311.8 1459.5L290.1 1453.2"/><path class="g" d="M278.2 1456L285.3 1685.9"/><path class="r" d="M410.7 1442.8L279 1701.5"/><path class="S" d="M263.5 1594.9z"/><path class="R" d="M369 1497z"/><path class="g" d="M390.3 1647.5L367.2 1656.7"/><path class="R" d="M256.9 1437.6z"/><path class="g" d="M464.3 1648.7L461 1494.6L451.3 1520.3"/><path class="r" d="M276.8 1657.6L345.8 1469.9"/><path class="g" d="M450.6 1676L349.8 1692.5"/><path class="R" d="M299.9 1453.2z"/><path class="S" d="M420.9 1696.6z"/><path class="R" d="M333.9 1509.5z"/><path class="g" d="M306.3 1668.3L499.2 1469.9"/><path class="r" d="M288.1 1698.3L316.1 1689.8L202 1727.9L190.8 1618.9"/><path class="S" d="M338.4 1595.2z"/><path class="r" d="M370.8 1437.6L202 1615.5L327.2 1684L257 1704.8L255.9 1509.5L335.7 1726.6"/><path class="S" d="M453.5 1646.4z"/><path class="r" d="M199.7 1600L273 1728.8L455.2 1518.2L248 1696.8L278.9 1506.7"/><path class="S" d="M461 1690.4z"/><path class="R" d="M258.1 1707.5z"/><path class="S" d="M310.8 1693.9z"/><path class="r" d="M259.4 1453.2L383.5 1509.5L357.1 1491.1"/><path class="g" d="M288.6 1513L309.8 1689.1"/><path class="R" d="M429 1520.3z"/><path class="S" d="M398.1 1506.7z"/><path class="r" d="M301.7 1671.9L242 1659.6L210.9 1592.8L332.4 1689.2L266.7 1682.9L236.1 1695.9L249.1 1727.9L239.8 1651.9L222.5 1599L237.3 1466.4L264.2 1696.5L206.3 1653.2"/><path class="g" d="M380.7 1596.9L373 1695.2"/><path class="r" d="M223.9 1463.6L248.6 1719.7L185.1 1509.5L202.1 1453.2L263.7 1646.2L217.3 1735.3"/><path class="S" d="M343.6 1663.8z"/><path class="R" d="M386.9 1469.9z"/><path class="S" d="M341.1 1656.9z"/><path class="R" d="M205.5 1448.7z"/><path class="S" d="M352.6 1491.1z"/><path class="r" d="M332.4 1699.3L223.1 1600"/><path class="S" d="M395.6 1699.7z"/><path class="R" d="M308.6 1463.6z"/><path class="S" d="M387.8 1659.9z"/><path class="r" d="M222.8 1706.7L461.4 1469.9L256.8 1448.7"/><path class="S" d="M249.6 1682z"/><path class="R" d="M321.9 1497z"/><path class="S" d="M221.5 1659.7z"/><path class="r" d="M301.1 1453.2L291.3 1513L322.4 1459.5L188.9 1648L205 1459.5L235.9 1585.6"/><path class="S" d="M300.5 1483.8z"/><path class="r" d="M306.3 1444.2L296.7 1513"/><path class="S" d="M358 1648.3z"/><path class="r" d="M257.5 1463.6L263.5 1491.1"/><path class="g" d="M227.6 1656.4L443.8 1483.8L353.8 1520.3"/><path class="r" d="M231.6 1701.2L449.4 1679.1"/><path class="S" d="M459.6 1648.5z"/><path class="r" d="M398.1 1518.2L465.2 1501.9L282.6 1686.4"/><path class="g" d="M432.5 1681.2L299.2 1730.1L305 1487.6"/><path class="R" d="M279.4 1491.1z"/><path class="S" d="M358 1651.4z"/><path class="r" d="M313 1456L444.4 1596.4L286.8 1597.2L330 1483.8L489.9 1520.6L309 1707.1L199.3 1685.2L309.9 1698.4"/><path class="g" d="M446.7 1509.5L353.9 1709.8"/><path class="r" d="M265 1487.6L252.3 1690.6L253.5 1720.9L255.3 1682.2"/><path class="g" d="M270.1 1649.6L460.1 1491.1"/><path class="r" d="M224.5 1657.7L312.4 1483.8L389.9 1444.2"/><path class="S" d="M265.5 1730.8z"/><path class="r" d="M193.9 1491.1L380.7 1523.8L204.1 1617.1L305.7 1523.8L185.4 1707L255.5 1619.1"/><path class="S" d="M277 1708.6z"/><path class="r" d="M432.2 1516.8L299 1691.7L187 1718.5L285.3 1497"/><path class="S" d="M276.2 1699.4z"/><path class="r" d="M365.6 1519.6L255.4 1523.8"/><path class="S" d="M304.1 1719.6z"/><path class="R" d="M237.4 1737.7z"/><path class="g" d="M318.5 1664.3L295.2 1680.4"/><path class="R" d="M426.2 1707.8z"/><path class="g" d="M428.3 1647.2L411.3 1453.2"/><path class="R" d="M248 1732.3z"/><path class="g" d="M336.7 1649.7L273 1466.4"/><path class="r" d="M267.7 1732.4L248.2 1453.2L375.3 1501.9L457.2 1483.8L222.5 1442.8L218.7 1483.8L268.4 1690.9L315.3 1523.8L357.6 1497L205.3 1713.5L263.3 1437.6"/><path class="S" d="M438.6 1487.6z"/><path class="R" d="M441.3 1646.1z"/><path class="S" d="M506.9 1483.8z"/><path class="R" d="M548.1 1506.7z"/><path class="S" d="M300 1599.4z"/><path class="r" d="M240 1491.1L340.9 1463.6L355.4 1523.8L275.8 1664"/><path class="S" d="M213.2 1718.3z"/><path class="r" d="M276.4 1437.6L452.4 1491.1L212.2 1656.5L219.9 1681.3L203 1646.6"/><path class="S" d="M467.2 1518.2z"/><path class="r" d="M286.2 1679.2L335.7 1466.4L310.6 1491.1L324.2 1662.3L222.4 1727.1L227.5 1463.6L380.1 1733.7"/><path class="S" d="M260.8 1717.9z"/><path class="r" d="M396 1469.9L260.8 1694L254.4 1525.8"/><path class="S" d="M327.5 1595z"/><path class="R" d="M386.3 1523.8z"/><path class="g" d="M243.4 1681.2L250.3 1718.7"/><path class="R" d="M187.8 1725.1z"/><path class="g" d="M407.8 1678.4L318.4 1684.5"/><path class="r" d="M354.8 1487.6L211.9 1483.8L356.6 1518.2L222.6 1685.1"/><path class="g" d="M467 1703L398.1 1598.2L453.9 1651.8"/><path class="R" d="M260.9 1729.4z"/><path class="S" d="M349.6 1710.5z"/><path class="r" d="M234.7 1442.8L347.2 1724.3L282.9 1466.4L362.1 1518.2L238.7 1456L227.7 1647.6L215.9 1704.4L210.3 1670.7L229.8 1437.6"/><path class="S" d="M260.6 1682.7z"/><path class="R" d="M389.1 1442.8z"/><path class="S" d="M281.6 1600.4z"/><path class="r" d="M246.4 1675.3L202.3 1599.6L370.9 1657.3L215.8 1647.5L321.9 1719.7"/><path class="S" d="M405.6 1520.3z"/><path class="r" d="M357.2 1663L415.7 1683.4L302.5 1720.4"/><path class="S" d="M218 1658.5z"/><path class="R" d="M253.3 1501.9z"/><path class="S" d="M492 1652.3z"/><path class="r" d="M263.7 1676.2L414.9 1651.6L294.7 1509.5L252.6 1712"/><path class="g" d="M311.6 1733L310.8 1665"/><path class="r" d="M203.5 1706.3L380.2 1513L306.1 1469.9"/><path class="S" d="M466.4 1491.1z"/><path class="r" d="M408.4 1509.5L420.5 1497L202.4 1732.4L242.9 1650.1L239.5 1442.8"/><path class="S" d="M296.6 1696.2z"/><path class="R" d="M308.8 1501.9z"/><path class="S" d="M394.8 1726.3z"/><path class="r" d="M238.4 1459.5L282.4 1506.7"/><path class="S" d="M364.2 1594.8z"/><path class="R" d="M234.8 1711.9z"/><path class="g" d="M415.9 1668.7L381.1 1469.9"/><path class="r" d="M350.5 1501.9L261.8 1444.2"/><path class="S" d="M375 1694.8z"/><path class="r" d="M232.8 1719.9L212.6 1661.6L477 1509.5"/><path class="g" d="M423 1647.4L283.7 1678.9L373 1664.5"/><path class="r" d="M325.6 1456L184.8 1619.1L329.9 1497L385.1 1645.5"/><path class="S" d="M403.9 1736.9z"/><path class="r" d="M336.1 1506.7L313.9 1697.8"/><path class="S" d="M488.2 1673.5z"/><path class="R" d="M212.7 1664.9z"/><path class="S" d="M441.6 1675.9z"/><path class="r" d="M294.8 1721.4L325.6 1659.7L324.8 1491.1L412.2 1463.6"/><path class="S" d="M366.4 1695.9z"/><path class="r" d="M305.4 1437.6L276 1463.6L258.1 1459.5"/><path class="S" d="M223.1 1702z"/><path class="R" d="M416.1 1518.2z"/><path class="g" d="M450.6 1714.2L320.3 1590.3L334.3 1463.6L398.7 1593.3L478.3 1513"/><path class="R" d="M244.2 1693.4z"/><path class="S" d="M380.8 1689.6z"/><path class="r" d="M349.8 1491.1L349.7 1509.5"/><path class="g" d="M317.9 1672.1L360.6 1601.5"/><path class="r" d="M369.6 1686.9L246.4 1714.7L240.7 1453.2L299.4 1442.8"/><path class="g" d="M283 1718.4L272.1 1702.1"/><path class="R" d="M200.4 1487.6z"/><path class="g" d="M436.1 1506.7L293.7 1601.3"/><path class="r" d="M236.6 1453.2L393.1 1671.4L226.3 1663.3L477.2 1469.9L270.9 1716.9L204.8 1660.4L277.6 1661.1L218.3 1733L299.8 1506.7L300.6 1509.5"/><path class="S" d="M366.1 1682z"/><path class="R" d="M512.3 1487.6z"/><path class="S" d="M289.5 1655.3z"/><path class="r" d="M196.9 1506.7L209.5 1667"/><path class="g" d="M246.7 1601.6L487.7 1491.1L247.5 1691.6"/><path class="r" d="M196.1 1618.9L221.2 1649L207.5 1692.1"/><path class="g" d="M245.8 1696.1L358.8 1646.3L256.1 1595.9L318.4 1709.6L404.1 1656.5L350.1 1653.8"/><path class="R" d="M303.6 1501.9z"/><path class="S" d="M496.6 1647.9z"/><path class="r" d="M352.9 1694L217.4 1620.6"/><path class="S" d="M304.7 1730.9z"/><path class="R" d="M398.3 1448.7z"/><path class="S" d="M316.4 1483.8z"/><path class="r" d="M443 1469.9L498.5 1509.5L234.1 1596.3L460.6 1523.8"/><path class="S" d="M483.6 1469.9z"/><path class="R" d="M257.1 1487.6z"/><path class="g" d="M352.6 1448.7L266.4 1622.6L360.3 1437.6"/><path class="r" d="M226.7 1699.2L272.1 1597.5L205 1600.3L239.3 1614.7"/><path class="S" d="M333 1685.6z"/><path class="r" d="M271.4 1726.7L290.7 1448.7L322.5 1669.3"/><path class="g" d="M292.3 1658.9L343.5 1501.9"/><path class="R" d="M381 1661.8z"/><path class="g" d="M294.4 1595.8L240.8 1692.9L280 1709.5L377.5 1669.1"/><path class="R" d="M245.7 1726.9z"/><path class="g" d="M226.7 1719.1L456.8 1596L270.6 1659.9"/><path class="r" d="M282.5 1672.9L206.2 1687.6"/><path class="g" d="M286.7 1727.7L330.6 1650.3L300.3 1689.7"/><path class="R" d="M218.4 1624.7z"/><path class="S" d="M491.5 1494.6z"/><path class="r" d="M309 1590.3L226.7 1516.8"/><path class="S" d="M262.8 1651.5z"/><path class="R" d="M544.9 1506.7z"/><path class="g" d="M477.7 1518.2L287 1701"/><path class="r" d="M185.6 1506.7L314.5 1444.2"/><path class="g" d="M510.5 1523.8L286.7 1594"/><path class="r" d="M206.3 1720.7L218.9 1674L218.4 1651.3L209.4 1685.6"/><path class="S" d="M302.7 1687.4z"/><path class="r" d="M199.7 1594.5L443.9 1497"/><path class="S" d="M351.5 1667.7z"/><path class="r" d="M255.2 1442.8L210.1 1730.5L422.2 1725.1"/><path class="S" d="M415.7 1513z"/><path class="R" d="M196.1 1663.6z"/><path class="S" d="M213.6 1729.4z"/><path class="r" d="M388.3 1719.8L207.4 1437.6"/><path class="S" d="M431.6 1469.9z"/><path class="r" d="M353.6 1672.3L249.3 1516.8L315.3 1509.5L237.7 1585.8"/><path class="S" d="M339.9 1648.2z"/><path class="r" d="M222.6 1698.9L287.5 1466.4"/><path class="S" d="M434.9 1663.8z"/><path class="R" d="M467.6 1509.5z"/><path class="S" d="M245.9 1659.6z"/><path class="r" d="M284.7 1653.9L263.7 1525.8L214.9 1722.2L346.7 1487.6"/><path class="S" d="M375.2 1707.7z"/><path class="R" d="M243.3 1483.8z"/><path class="S" d="M309.8 1666.4z"/><path class="R" d="M282.8 1501.9z"/><path class="S" d="M223.4 1713.5z"/><path class="r" d="M194.9 1516.8L198.4 1437.6L258.3 1597.5"/><path class="S" d="M477.3 1491.1z"/><path class="r" d="M241.7 1655.2L299.8 1459.5L295.5 1448.7L346.5 1483.8L233.4 1613.7L293.5 1456L442.5 1603.4"/><path class="g" d="M317.3 1596.4L241.5 1645.5"/><path class="r" d="M206 1706.1L281.8 1728.1"/><path class="S" d="M380.6 1672.4z"/><path class="r" d="M340.5 1483.8L204.2 1691.9L224.7 1525.8L334.6 1513L204.1 1615.7L221 1597.6L269.8 1670.1L189.2 1525.8L236.7 1487.6"/><path class="S" d="M291.6 1674.3z"/><path class="R" d="M306.8 1590.6z"/><path class="g" d="M377.4 1483.8L258 1669.8"/><path class="r" d="M354.3 1466.4L329 1509.5L188.3 1651.6"/><path class="S" d="M361 1696.5z"/><path class="R" d="M317 1513z"/><path class="S" d="M263.8 1665.7z"/><path class="r" d="M326.1 1710.4L220.3 1592.9"/><path class="S" d="M377.7 1664.6z"/><path class="r" d="M189.4 1501.9L186.6 1653.2L388.9 1652.7L223.8 1487.6L275.2 1731.3L464.2 1487.6L255 1453.2L373.7 1463.6L215.3 1737.5L262.2 1459.5L205.9 1501.9L294 1725.7"/><path class="S" d="M302.9 1590.6z"/><path class="R" d="M273.6 1501.9z"/><path class="g" d="M528.8 1523.8L276.8 1646.5"/><path class="r" d="M265.5 1687.2L266.9 1600.4L276.4 1483.8"/><path class="g" d="M381.1 1669.8L495.1 1483.8"/><path class="R" d="M332.1 1665.5z"/><path class="S" d="M299.3 1701.2z"/><path class="r" d="M415.3 1487.6L300 1487.6"/><path class="g" d="M318.1 1737.1L298.7 1707.1L335.7 1676.4L345.6 1491.1L362.3 1736.7"/><path class="r" d="M185.6 1516.8L290.1 1614.6"/><path class="S" d="M269.5 1487.6z"/><path class="r" d="M237.9 1687.6L223.8 1610.6"/><path class="S" d="M358.8 1658.5z"/><path class="R" d="M213.2 1625.4z"/><path class="S" d="M239.2 1661.6z"/><path class="R" d="M243.1 1620.9z"/><path class="S" d="M370.4 1483.8z"/><path class="r" d="M280.3 1712.1L253 1662.2L235.3 1437.6L192.6 1525.8L307 1620.5"/><path class="S" d="M396.8 1516.8z"/><path class="r" d="M283.3 1648.6L213.7 1663.2L212.9 1602.7"/><path class="S" d="M372.7 1453.2z"/><path class="R" d="M426.4 1525.8z"/><path class="g" d="M269.2 1673.8L384.3 1437.6"/><path class="r" d="M226.6 1683.6L453 1596.3L284.1 1707"/><path class="S" d="M326 1693.2z"/><path class="R" d="M205.1 1671.5z"/><path class="g" d="M233.4 1601.2L367.2 1487.6"/><path class="r" d="M267.4 1676.1L249.4 1616.2L358 1487.6"/><path class="S" d="M398.7 1646.2z"/><path class="r" d="M381.8 1737L316.5 1706.2L321.1 1716.9L202.7 1655.3"/><path class="S" d="M418.7 1731.2z"/><path class="r" d="M326.6 1735.7L348 1648.9"/><path class="S" d="M346.8 1650.7z"/><path class="r" d="M262.1 1729.6L186.3 1616.4L217.2 1699L457.8 1714.2"/><path class="S" d="M470 1483.8z"/><path class="r" d="M267.1 1660.4L249.1 1466.4L429.7 1513L315.4 1674.7L233.8 1706.6L237.2 1698.8L264.8 1448.7"/><path class="S" d="M459.1 1519.6z"/><path class="r" d="M495 1506.7L276.4 1666L226.1 1513L277 1501.9"/><path class="S" d="M291.7 1491.1z"/><path class="r" d="M250.3 1491.1L278.1 1678L376.4 1713.7"/><path class="g" d="M341.2 1653.1L302.1 1700.3"/><path class="r" d="M216.8 1466.4L395.4 1497L302.6 1655.7L185.3 1487.6"/><path class="g" d="M355.4 1599.5L287.3 1650.3L237.1 1708.3L330.7 1678.3"/><path class="r" d="M221.4 1595.1L189.1 1715L230.8 1687.4"/><path class="S" d="M345 1656.8z"/><path class="R" d="M268 1506.7z"/><path class="S" d="M301.3 1669.9z"/><path class="R" d="M292.5 1516.8z"/><path class="S" d="M284.7 1448.7z"/><path class="R" d="M199.7 1703z"/><path class="S" d="M319.7 1659.3z"/><path class="r" d="M282.1 1711.1L342.3 1523.8"/><path class="S" d="M280.6 1653.6z"/><path class="R" d="M378.7 1506.7z"/><path class="g" d="M415.6 1717L265.5 1720.7"/><path class="R" d="M360.5 1456z"/><path class="S" d="M294.5 1623z"/><path class="R" d="M267.6 1442.8z"/><path class="S" d="M490.4 1509.5z"/><path class="r" d="M250.4 1525.8L223.6 1693.6"/><path class="S" d="M360.1 1487.6z"/><path class="r" d="M390.6 1523.8L396.4 1523.8L351.3 1663.2L248.8 1698.9"/><path class="g" d="M409.1 1658.8L281.6 1645.7L366.8 1706.6"/><path class="r" d="M258.9 1714.3L371.3 1509.5"/><path class="g" d="M309.5 1712.8L358 1595.8"/><path class="r" d="M232.2 1686.6L464.3 1520.3L263.1 1653.5"/><path class="g" d="M285.2 1600.9L239.2 1656.5"/><path class="r" d="M419.2 1675L359.9 1469.9L433.7 1523.8L226.4 1668.3"/><path class="S" d="M389 1649.8z"/><path class="R" d="M255.3 1674.9z"/><path class="S" d="M269.9 1723.5z"/><path class="R" d="M331.2 1668.2z"/><path class="S" d="M214.4 1593.2z"/><path class="R" d="M246 1716.9z"/><path class="S" d="M344.4 1712.1z"/><path class="r" d="M207.2 1592.9L288.6 1444.2L235 1709.7L206.7 1456"/><path class="S" d="M240.2 1586.2z"/><path class="R" d="M486.5 1509.5z"/><path class="S" d="M302.4 1692.9z"/><path class="r" d="M232.5 1501.9L214.3 1650.6L481.9 1494.6"/><path class="S" d="M290.6 1697.6z"/><path class="r" d="M393.5 1501.9L286.3 1737.7"/><path class="S" d="M303.3 1690.4z"/><path class="r" d="M211.4 1736.4L212.8 1683"/><path class="g" d="M287.5 1658.8L311 1651.4"/><path class="R" d="M301.1 1648.9z"/><path class="S" d="M290.8 1664.9z"/><path class="r" d="M444.5 1469.9L220.6 1589.9L307.2 1516.8"/><path class="S" d="M279.6 1619.1z"/><path class="r" d="M306.6 1523.8L556.5 1520.3L269.6 1453.2L409.4 1487.6"/><path class="S" d="M471.9 1652.8z"/><path class="r" d="M261.7 1516.8L272.4 1593.9L214.9 1516.8L294 1677.4L273 1585.9"/><path class="S" d="M267.1 1665.3z"/><path class="R" d="M341.9 1694.3z"/><path class="g" d="M321.4 1483.8L358.4 1654.3L403.4 1685.4L303.4 1653.7"/><path class="r" d="M214.4 1463.6L327.2 1733.3"/><path class="g" d="M317.5 1601.5L280.9 1680.8"/><path class="R" d="M244.4 1448.7z"/><path class="g" d="M378.3 1711.6L402.7 1487.6"/><path class="R" d="M355.5 1469.9z"/><path class="S" d="M386 1652.7z"/><path class="r" d="M497.3 1513L230.7 1603.5L445.7 1513"/><path class="g" d="M332.5 1648.1L310.8 1615.5"/><path class="r" d="M320.8 1665.4L404.3 1719.1"/><path class="S" d="M405.5 1675.6z"/><path class="R" d="M457.3 1694.7z"/><path class="g" d="M333.8 1483.8L294.9 1711.7L328.4 1444.2"/><path class="r" d="M239.9 1594.8L356.1 1513"/><path class="g" d="M274.2 1677.1L365.7 1713.4"/><path class="r" d="M483 1513L424.3 1732.9"/><path class="S" d="M347.4 1693.2z"/><path class="R" d="M297.1 1695.6z"/><path class="S" d="M473 1509.5z"/><path class="R" d="M413.7 1442.8z"/><path class="g" d="M347.4 1664.1L498.7 1645.5L399.8 1647.9"/><path class="r" d="M272.5 1713.9L230.1 1442.8"/><path class="S" d="M342.4 1700.4z"/><path class="r" d="M349.2 1730.5L202.6 1593.1L203.2 1720.5"/><path class="S" d="M239.6 1665.5z"/><path class="R" d="M433 1483.8z"/><path class="g" d="M323.5 1672.5L301.2 1660.5"/><path class="r" d="M250.6 1501.9L327.3 1692L221.6 1459.5"/><path class="S" d="M366.5 1648.6z"/><path class="R" d="M376.7 1523.8z"/><path class="S" d="M339.1 1660.3z"/><path class="R" d="M420.1 1704z"/><path class="g" d="M265.3 1657.1L241.8 1695.8L406.7 1697.6"/><path class="r" d="M215.2 1506.7L435.6 1487.6"/><path class="g" d="M286.2 1655.2L218.1 1648.2"/><path class="r" d="M227 1702.2L229.4 1720.4L219.6 1713.1L351.4 1453.2"/><path class="g" d="M364.8 1671.6L368.7 1506.7L451.8 1513L251 1702.5L543.9 1497L291.4 1647.5L374.5 1706.3L253.4 1590.7"/><path class="r" d="M444.8 1518.2L274.5 1444.2L222.7 1721.2L375.1 1679.5L287.7 1506.7"/><path class="g" d="M279.7 1722.7L425.8 1513L313 1653.1"/><path class="r" d="M278 1459.5L223.7 1716.1"/><path class="S" d="M315.7 1700.6z"/><path class="R" d="M347.2 1523.8z"/><path class="S" d="M400.5 1686.6z"/><path class="r" d="M337.2 1653.9L308.4 1664L233.7 1708.8"/><path class="S" d="M259.1 1669.5z"/><path class="r" d="M275.3 1581L196.4 1613L217.2 1670.8L481.5 1715"/><path class="S" d="M418 1650.5z"/><path class="r" d="M373.5 1655.6L251 1693.2"/><path class="S" d="M305 1717.5z"/><path class="R" d="M307 1613.1z"/><path class="S" d="M300.4 1615.1z"/><path class="R" d="M422.1 1667.9z"/><path class="S" d="M297.5 1666.6z"/><path class="R" d="M249.8 1444.2z"/><path class="S" d="M336.7 1725z"/><path class="R" d="M459 1494.6z"/><path class="g" d="M343.8 1601.6L216.9 1721.3"/><path class="r" d="M237 1459.5L230.1 1677.2L332.3 1444.2L243.5 1730.8L199.3 1732.7L196.5 1624.6L403.5 1624.4L291.8 1525.8"/><path class="g" d="M291.9 1444.2L264 1733.3"/><path class="r" d="M248.6 1501.9L278.3 1491.1L195.1 1669.3L283 1720.9L234.6 1456"/><path class="g" d="M266.2 1646.7L215.2 1688.7"/><path class="r" d="M365.3 1453.2L345.9 1714.8"/><path class="S" d="M349.8 1601.5z"/><path class="r" d="M296.6 1646.5L231.9 1516.8"/><path class="g" d="M385.5 1453.2L480.5 1648.7"/><path class="R" d="M350.1 1437.6z"/><path class="g" d="M277.7 1706.7L428.1 1491.1"/><path class="R" d="M246 1463.6z"/><path class="S" d="M455.1 1509.5z"/><path class="r" d="M216.1 1603.4L433.9 1518.2L200.1 1466.4"/><path class="S" d="M477.3 1649.9z"/><path class="r" d="M429.2 1491.1L475.3 1469.9"/><path class="g" d="M374.3 1650.3L335.5 1645.8L483.7 1501.9"/><path class="r" d="M194.5 1725L295.9 1525.8"/><path class="S" d="M486.4 1523.8z"/><path class="R" d="M297.4 1673.2z"/><path class="g" d="M326.3 1654.2L365.9 1491.1L300.2 1726L294.7 1709.1"/><path class="r" d="M326.6 1469.9L292.1 1453.2L335.4 1649.2"/><path class="S" d="M289.5 1593.3z"/><path class="r" d="M274.9 1593.7L387.5 1656.4L254.1 1715.4"/><path class="S" d="M374.2 1672.9z"/><path class="r" d="M479.5 1722.1L186.5 1617.1L208.4 1459.5L215.8 1612.5"/><path class="S" d="M277.9 1729.1z"/><path class="r" d="M207.9 1622.9L473.2 1497"/><path class="S" d="M334.2 1707.1z"/><path class="R" d="M466.3 1513z"/><path class="S" d="M369.7 1594.6z"/><path class="r" d="M553.6 1518.2L270.1 1669.3L201.8 1729.9"/><path class="S" d="M266.8 1716.7z"/><path class="r" d="M354.3 1676.8L362.3 1719.9L207.9 1651.7"/><path class="S" d="M245 1593.1z"/><path class="r" d="M351.3 1513L298.5 1618L260.5 1656.8L338.2 1491.1"/><path class="g" d="M258.8 1704.8L293.9 1716.1"/><path class="r" d="M426 1735.7L315.9 1693.1L210.4 1437.6L420.6 1662.8L331 1448.7"/><path class="g" d="M272.7 1650.3L290.4 1732.3"/><path class="r" d="M224.1 1681.1L360.7 1463.6L367.5 1509.5L185.1 1647.4"/><path class="S" d="M301.2 1728.1z"/><path class="R" d="M199.5 1590.8z"/><path class="S" d="M363.4 1653.4z"/><path class="R" d="M290.6 1685.1z"/><path class="S" d="M278.5 1717.9z"/><path class="r" d="M447 1662.7L260.7 1712.6L212.4 1725.7L233 1737.2"/><path class="S" d="M424.1 1509.5z"/><path class="r" d="M200.6 1700.9L311.3 1686.9L361.6 1483.8"/><path class="g" d="M251.6 1695.3L497.9 1516.8"/><path class="r" d="M201.1 1442.8L402.5 1459.5L367.3 1516.8"/><path class="g" d="M332.3 1595.8L303.3 1657.3"/><path class="r" d="M266.9 1615.5L324.4 1466.4L363.6 1647.8L285.4 1487.6"/><path class="S" d="M265.6 1463.6z"/><path class="r" d="M425.4 1491.1L494.4 1518.2L248.1 1682.5L234 1682.4"/><path class="g" d="M308.5 1737.2L405.6 1513L420.3 1463.6"/><path class="R" d="M479.8 1501.9z"/><path class="S" d="M407 1483.8z"/><path class="r" d="M344.8 1509.5L407.3 1663.7"/><path class="S" d="M265.4 1668.4z"/><path class="R" d="M533.1 1520.3z"/><path class="S" d="M365.7 1651z"/><path class="R" d="M282.3 1459.5z"/><path class="g" d="M352.7 1737.2L319.6 1719.2L487.8 1525.8L327.5 1665.9L296.4 1596.5"/><path class="r" d="M259.7 1697.3L245.6 1715.1L437.2 1469.9L263.4 1661.3L275.7 1695.4L339 1704.7L196.5 1689.4L369.9 1453.2L353.5 1653.3L290.5 1459.5L470.2 1509.5L302.2 1702.6L237 1516.8L243.5 1437.6"/><path class="g" d="M433 1494.6L365 1694.5"/><path class="r" d="M225.2 1697.9L316.3 1731.1"/><path class="g" d="M417 1648.9L348.1 1665.1L275.7 1661.4L427.3 1509.5L447.1 1501.9"/><path class="r" d="M363.9 1513L258.8 1727.6"/><path class="S" d="M368.6 1513z"/><path class="R" d="M239.3 1725.4z"/><path class="S" d="M265.8 1700.4z"/><path class="R" d="M263.4 1731.3z"/><path class="g" d="M293.5 1666.1L427.4 1646.4L255.5 1688.4"/><path class="r" d="M239.9 1716L209.4 1625.6L201.1 1619"/><path class="S" d="M365.5 1483.8z"/><path class="r" d="M360.8 1728.2L346.9 1667.7"/><path class="S" d="M220.2 1719z"/><path class="r" d="M352.1 1456L292.2 1662.5L263.4 1506.7"/><path class="S" d="M531.7 1483.8z"/><path class="R" d="M269.3 1615z"/><path class="g" d="M261.4 1725.9L253.9 1702.4L400.3 1706.9L377.4 1650.1L321.5 1674.4L448.2 1494.6L449.8 1469.9"/><path class="r" d="M328.8 1487.6L346.5 1711.8"/><path class="g" d="M317.9 1677.8L341.8 1685.7L262.4 1715.6"/><path class="R" d="M221.4 1448.7z"/><path class="S" d="M432.4 1705.9z"/><path class="R" d="M211.6 1600.5z"/><path class="S" d="M313.2 1707.9z"/><path class="r" d="M443.3 1509.5L445.3 1523.8"/><path class="g" d="M278.7 1668.8L379.7 1448.7L364.5 1702.3"/><path class="r" d="M271.2 1686.1L359.8 1712.3L203.5 1690.5L342 1652.8"/><path class="S" d="M428.1 1651.2z"/><path class="r" d="M257.1 1734.6L294.3 1730.6"/><path class="g" d="M300 1732.2L326.3 1650.7L337 1736.4"/><path class="r" d="M404.8 1666.8L204.3 1667.8L382.3 1708.8L295.5 1501.9L453.5 1506.7"/><path class="S" d="M280.1 1704.2z"/><path class="r" d="M363.9 1509.5L238 1670L282.4 1516.8L273.6 1453.2L223.8 1679.8L270.1 1736.2L308.6 1696.2L198.8 1737L226.2 1501.9"/><path class="S" d="M428.9 1444.2z"/><path class="r" d="M259.7 1448.7L253.4 1456L287.5 1709.3L431.9 1731.7"/><path class="g" d="M313.6 1659.9L331.3 1491.1"/><path class="R" d="M201.2 1437.6z"/><path class="g" d="M315.7 1595.3L360.3 1649.2L334.5 1694"/><path class="r" d="M244.2 1599L327.3 1453.2L234.8 1653.6L386.6 1513"/><path class="S" d="M285.1 1674.7z"/><path class="r" d="M379.7 1509.5L339.3 1506.7"/><path class="S" d="M263.1 1671.3z"/><path class="R" d="M301.7 1734.1z"/><path class="S" d="M489.1 1487.6z"/><path class="r" d="M292.6 1708.1L276 1622.6L271.7 1730.8"/><path class="g" d="M370.8 1592.8L422.6 1686.1"/><path class="R" d="M257.9 1483.8z"/><path class="S" d="M382.2 1646.2z"/><path class="R" d="M377.9 1646.9z"/><path class="S" d="M306.3 1647.6z"/><path class="r" d="M243.6 1684.9L205 1525.8"/><path class="S" d="M300.3 1716.9z"/><path class="R" d="M213.4 1732z"/><path class="S" d="M462.3 1718.2z"/><path class="R" d="M230.5 1459.5z"/><path class="S" d="M393.2 1719.2z"/><path class="R" d="M201.7 1516.8z"/><path class="g" d="M327 1717.5L281.7 1718.3"/><path class="r" d="M344.1 1695.1L345.1 1728.4L379.2 1698.8"/><path class="g" d="M413.6 1487.6L343 1658.2"/><path class="R" d="M314 1487.6z"/><path class="S" d="M348.5 1679.6z"/><path class="r" d="M209.1 1466.4L258.7 1456L287.5 1501.9L565.7 1494.6"/><path class="g" d="M434.8 1598.2L248.7 1658.1"/><path class="R" d="M462.7 1506.7z"/><path class="g" d="M297.4 1711.7L454.7 1469.9"/><path class="R" d="M454.8 1732.3z"/><path class="S" d="M411 1483.8z"/><path class="R" d="M210.2 1613.1z"/><path class="S" d="M320.1 1696.2z"/><path class="r" d="M328.5 1597.6L252.2 1442.8"/><path class="g" d="M361.3 1645.9L351.7 1483.8"/><path class="r" d="M203.3 1466.4L259.1 1687L450.8 1509.5L318.6 1734.7L246.7 1448.7L367.6 1656L214.1 1720.7L393.3 1688.7"/><path class="g" d="M333 1735.8L580.3 1523.8"/><path class="r" d="M256.6 1664.4L213.7 1646.5"/><path class="g" d="M272 1696.6L335.5 1586.2L298.7 1678.4"/><path class="R" d="M266.6 1525.8z"/><path class="g" d="M367.4 1650.2L339.1 1678.5"/><path class="r" d="M230.4 1516.8L212.6 1710.1L213.9 1684.7L275 1734.4L211.6 1694.3L480.5 1520.3"/><path class="g" d="M279.7 1668.5L336.8 1668.2"/><path class="R" d="M476.6 1501.9z"/><path class="S" d="M450.9 1735.4z"/><path class="r" d="M313.8 1647.5L439.8 1513L320.6 1525.8L186.4 1734.5L344.5 1596.3L281.8 1487.6"/><path class="S" d="M328.5 1653.3z"/><path class="R" d="M407.7 1523.8z"/><path class="S" d="M318.4 1680.4z"/><path class="R" d="M216.8 1659.8z"/><path class="S" d="M373.6 1596.2z"/><path class="r" d="M319.1 1700.4L239.2 1692L414 1693.9L448.6 1523.8"/><path class="S" d="M319.2 1716.4z"/><path class="r" d="M547.7 1497L268.9 1665L199.2 1603.1L187.5 1501.9L373 1483.8L321.4 1523.8"/><path class="g" d="M285.1 1660.2L411.2 1513L361.8 1665.9L225.4 1734.6"/><path class="R" d="M372.9 1497z"/><path class="S" d="M311.2 1720z"/><path class="R" d="M263.8 1705.1z"/><path class="g" d="M525.7 1518.2L249.9 1688.8"/><path class="R" d="M353.7 1599.3z"/><path class="S" d="M272.2 1663.1z"/><path class="r" d="M349.4 1463.6L399.5 1483.8"/><path class="S" d="M338.5 1456z"/><path class="r" d="M259.7 1501.9L305.5 1466.4L245.8 1673.1L297.5 1600.8L205.7 1613.4L255.9 1444.2"/><path class="S" d="M292.1 1728.2z"/><path class="R" d="M184.9 1667.7z"/><path class="g" d="M284.5 1581.1L269.8 1649.2"/><path class="R" d="M313.6 1710.5z"/><path class="g" d="M366.5 1459.5L361.4 1653.3"/><path class="r" d="M197.8 1727.1L284.4 1463.6L503.9 1513"/><path class="g" d="M497.8 1710L230.1 1595"/><path class="R" d="M212.2 1719.8z"/><path class="S" d="M349.4 1614.7z"/><path class="r" d="M304.8 1727.3L364.3 1664.3L225.7 1456"/><path class="S" d="M437.3 1646.1z"/><path class="R" d="M419.7 1469.9z"/><path class="S" d="M280 1686.9z"/><path class="r" d="M315.8 1684.4L242 1658.8L194.2 1702.4L226.7 1597.9L263.5 1719.1L266.2 1727.3"/><path class="S" d="M327.7 1664.5z"/><path class="R" d="M301.5 1487.6z"/><path class="S" d="M275 1599.9z"/><path class="R" d="M254.1 1516.8z"/><path class="S" d="M435.1 1694.4z"/><path class="R" d="M393.6 1717.3z"/><path class="S" d="M290.7 1581.7z"/><path class="R" d="M220.7 1437.6z"/><path class="S" d="M293.2 1594.7z"/><path class="R" d="M400.5 1509.5z"/><path class="S" d="M353.4 1723.5z"/><path class="R" d="M253.5 1734.4z"/><path class="g" d="M311.9 1713.3L475.7 1709.2"/><path class="R" d="M322.3 1448.7z"/><path class="S" d="M360.1 1610.8z"/><path class="r" d="M333.6 1523.8L226.5 1675.7L312.8 1590.4L346.1 1717.2L241.2 1698.1"/><path class="g" d="M400.1 1491.1L486.4 1516.8L300.3 1617.6"/><path class="r" d="M358.1 1696.1L369.8 1667.8"/><path class="S" d="M319.4 1701.8z"/><path class="R" d="M203.5 1657.5z"/><path class="g" d="M392.9 1654.2L383.2 1497L429.7 1704.6L347.8 1703.2"/><path class="r" d="M321.1 1602.5L212 1684.9"/><path class="S" d="M311.8 1516.8z"/><path class="R" d="M269 1710.1z"/><path class="S" d="M368.2 1665.1z"/><path class="r" d="M222.8 1690.7L325.7 1704.3"/><path class="S" d="M363.6 1723.6z"/><path class="R" d="M240.6 1593.8z"/><path class="g" d="M265.3 1737.4L279.9 1593.7"/><path class="r" d="M267.9 1483.8L315.3 1463.6"/><path class="S" d="M310.5 1737.1z"/><path class="R" d="M280.5 1596.1z"/><path class="S" d="M231.8 1593.5z"/><path class="r" d="M439.9 1658.9L451.3 1681.5L395.4 1710.7"/><path class="g" d="M320.1 1653.1L303 1711.2L351.3 1730.9L470.7 1651.3"/><path class="R" d="M259.1 1525.8z"/><path class="S" d="M399.6 1596.5z"/><path class="r" d="M369.1 1669.5L247.2 1653.8L294.3 1732.5L204.6 1724.8L201 1615.7L300.1 1695.7"/><path class="S" d="M407.4 1468.1z"/><path class="r" d="M291.9 1711L352.5 1662L277.4 1727L207.6 1675L395.6 1509.5"/><path class="g" d="M298 1660.7L288.1 1665.2"/><path class="r" d="M437.5 1613.2L378.4 1516.8L239.9 1444.2L386.5 1736.5L276.1 1442.8L363.1 1516.8"/><path class="S" d="M408.6 1469.9z"/><path class="R" d="M333.3 1594.5z"/><path class="S" d="M354 1516.8z"/><path class="r" d="M355.3 1491.1L299.9 1725.6"/><path class="g" d="M334.8 1687L258.4 1703.4L311.2 1617.3"/><path class="r" d="M187 1719.6L259.2 1659.9L333.4 1655.4L364 1456L189.6 1725.5L195.8 1710.7L463.2 1654.3"/><path class="g" d="M440.1 1597.1L350.3 1715.1L337.3 1687.9"/><path class="r" d="M247.7 1459.5L242.6 1720.2"/><path class="g" d="M239 1728.6L222 1710.2"/><path class="r" d="M192.1 1653.9L249.7 1456L268.3 1463.6L235 1692"/><path class="g" d="M252.5 1683.6L431.9 1700.3L305.1 1459.5"/><path class="R" d="M257.7 1655.5z"/><path class="g" d="M352.3 1711.8L254.6 1679.6"/><path class="r" d="M357 1600.5L211.8 1703.1L219.6 1456L329.2 1491.1L225.7 1673.3"/><path class="g" d="M383.1 1656.2L292 1692"/><path class="r" d="M251.2 1598.4L185.2 1734.9L325.8 1501.9L355.3 1710.3L204.2 1648.2"/><path class="S" d="M427.3 1716.4z"/><path class="R" d="M471.9 1506.7z"/><path class="g" d="M293.4 1487.6L374.2 1589.7"/><path class="R" d="M227.5 1666.1z"/><path class="S" d="M368.8 1616.7z"/><path class="r" d="M212.7 1610.5L205.7 1437.6L266.6 1483.8L240.1 1725.7L280.4 1448.7"/><path class="g" d="M449.4 1491.1L337.9 1657L480 1711"/><path class="R" d="M201.7 1622.8z"/><path class="g" d="M290.8 1689.3L499.8 1702.2"/><path class="R" d="M314 1714.5z"/><path class="g" d="M446.4 1646.8L401.5 1437.6"/><path class="R" d="M261.8 1622.4z"/><path class="S" d="M460.4 1597.9z"/><path class="R" d="M218.3 1679.8z"/><path class="g" d="M328 1713.2L336.4 1483.8L379.7 1649.6"/><path class="r" d="M320.3 1710L326.7 1619.7"/><path class="S" d="M316.9 1618.6z"/><path class="R" d="M303.5 1463.6z"/><path class="S" d="M327.6 1725.4z"/><path class="R" d="M253.1 1620.5z"/><path class="S" d="M265.3 1713.7z"/><path class="r" d="M319 1442.8L268.2 1501.9"/><path class="S" d="M319.2 1650.7z"/><path class="r" d="M258.2 1580.9L249.7 1453.2"/><path class="g" d="M252.3 1718.1L281.7 1685.4"/><path class="R" d="M261.2 1736.9z"/><path class="S" d="M344.6 1649.7z"/><path class="r" d="M283.8 1702.1L319.1 1704.9L219.8 1699.2L188 1674.5"/><path class="S" d="M281.1 1695.3z"/><path class="r" d="M480 1509.5L296.7 1483.8"/><path class="g" d="M243 1673L239 1590.2L247 1710.1"/><path class="R" d="M353.9 1523.8z"/><path class="S" d="M342.2 1701.7z"/><path class="R" d="M324.2 1506.7z"/><path class="S" d="M340.1 1646.8z"/><path class="r" d="M454.5 1667.9L218.2 1665.5L236.1 1662.1"/><path class="g" d="M352.2 1695.5L382.6 1456"/><path class="r" d="M226.7 1442.8L217 1596.3"/><path class="S" d="M250.8 1722.5z"/><path class="r" d="M210.2 1724.3L271.6 1667.1L195.7 1501.9"/><path class="g" d="M332.8 1714.3L249 1683.3"/><path class="R" d="M277.1 1448.7z"/><path class="S" d="M250.9 1666.1z"/><path class="r" d="M384.2 1506.7L333.8 1596.9L238.7 1611.2L332.4 1716.7"/><path class="S" d="M407.9 1706.7z"/><path class="r" d="M210 1677.3L349.3 1506.7"/><path class="S" d="M270.4 1677z"/><path class="R" d="M274.5 1442.8z"/><path class="S" d="M397.3 1673.4z"/><path class="R" d="M290.5 1717.7z"/><path class="g" d="M340 1596.9L321.8 1589.5L238.8 1691.4L455.1 1657.7"/><path class="r" d="M420.9 1523.8L386.8 1501.9L358.6 1661.6L208.7 1734.1"/><path class="S" d="M344.2 1654.1z"/><path class="r" d="M443 1651L328.9 1463.6L208.2 1700.5"/><path class="g" d="M445.3 1688.8L370.6 1601.4L481.3 1720.6"/><path class="R" d="M313.1 1525.8z"/><path class="S" d="M310.7 1708.6z"/><path class="r" d="M325.4 1723.5L298.3 1693.3L275.6 1459.5L234.2 1669.3L343.8 1453.2L242.3 1662.3L206.9 1703L389.7 1523.8L256 1697.1L210.9 1646.3L207 1442.8L357.5 1506.7L428.7 1685.5L216.6 1448.7L546.8 1513L321.2 1646L292.9 1459.5"/><path class="g" d="M281.4 1483.8L297 1491.1L337.8 1706.1L275.1 1653.2"/><path class="R" d="M493.8 1494.6z"/><path class="S" d="M331.6 1686.1z"/><path class="R" d="M301.8 1707z"/><path class="g" d="M392.5 1669L269.2 1613.6L464.7 1618"/><path class="R" d="M422 1723.7z"/><path class="g" d="M524 1513L438.3 1509.5"/><path class="r" d="M201.3 1715.1L222.7 1668.5"/><path class="S" d="M383.2 1596.7z"/><path class="r" d="M254.4 1661.1L226.6 1448.7L275.6 1670.5L294.8 1705.2L329.6 1706.2"/><path class="g" d="M290 1506.7L354.7 1725.8L396.1 1699.9"/><path class="r" d="M224 1466.4L379.8 1459.5"/><path class="g" d="M366.4 1598.9L377.4 1491.1L388.9 1654L290.2 1613.1"/><path class="r" d="M246.3 1735.4L346 1594.4"/><path class="S" d="M391.1 1705.4z"/><path class="r" d="M274.2 1675.6L277.8 1731.3L508.6 1513L192.6 1693.1"/><path class="g" d="M349 1595.3L379.6 1729.5"/><path class="r" d="M553.3 1513L244.6 1525.8"/><path class="g" d="M368.3 1463.6L258.2 1667L349.4 1664.4"/><path class="R" d="M436.9 1695.4z"/><path class="S" d="M269.6 1646.9z"/><path class="R" d="M216.5 1718.3z"/><path class="S" d="M414.2 1523.8z"/><path class="R" d="M236 1444.2z"/><path class="S" d="M230.4 1718.2z"/><path class="R" d="M351.1 1463.6z"/><path class="g" d="M393.9 1681.6L224.5 1723.2"/><path class="r" d="M379.5 1453.2L241.7 1599.6L229.3 1705.3"/><path class="S" d="M382.5 1729.8z"/><path class="R" d="M237.1 1645.7z"/><path class="g" d="M318.8 1646.8L248.8 1663.1L338.3 1695.2"/><path class="R" d="M373.3 1523.8z"/><path class="g" d="M432.4 1487.6L246 1679.6"/><path class="r" d="M309.1 1456L206.3 1698.7"/><path class="g" d="M422.2 1669.1L294.2 1702.9"/><path class="r" d="M365.4 1459.5L245 1589.5L230 1453.2L375.5 1506.7L332 1693.8"/><path class="g" d="M493.5 1679L353.5 1596.7L490.3 1657"/><path class="r" d="M220.5 1615.1L256.2 1657.5"/><path class="g" d="M319.9 1729.1L269.2 1456"/><path class="R" d="M386.5 1617z"/><path class="g" d="M424.9 1672.5L319.5 1580.4L241.8 1675.7"/><path class="R" d="M271.7 1442.8z"/><path class="S" d="M412.4 1732.9z"/><path class="R" d="M297.9 1720.8z"/><path class="S" d="M298.8 1684.7z"/><path class="r" d="M392.6 1456L197.7 1707.8"/><path class="S" d="M249.6 1601.1z"/><path class="r" d="M343 1690.5L420 1456L194.9 1706"/><path class="g" d="M263.7 1698.3L358.6 1453.2"/><path class="r" d="M231.5 1487.6L249.6 1610L218.7 1713.4L249 1729.3"/><path class="S" d="M230.8 1596.6z"/><path class="R" d="M501.2 1516.8z"/><path class="g" d="M267.7 1618.6L367.9 1686.4L402.7 1516.8L422.6 1509.5L307.1 1593.2"/><path class="r" d="M261.7 1724.1L229 1712.8L406.2 1702.4L243.8 1491.1"/><path class="g" d="M399 1647.1L506.6 1513"/><path class="r" d="M240 1732.5L200.9 1596.6L248.7 1466.4L210.5 1466.4"/><path class="S" d="M478.2 1695.4z"/><path class="r" d="M259.6 1700.9L389.3 1448.7L228.6 1692L247 1616.6L427 1483.8L195 1678"/><path class="g" d="M485.6 1615.6L218 1590.5"/><path class="r" d="M471.6 1501.9L403.3 1437.6"/><path class="g" d="M282.5 1698.6L392 1667.9L374.9 1444.2"/><path class="R" d="M217.4 1681.8z"/><path class="g" d="M409.7 1598.5L326.2 1593.3L396 1656.7"/><path class="r" d="M259.8 1617.4L213.8 1672.9L260.7 1684.4L363.8 1506.7L301 1444.2L357.1 1688L238.7 1696.7L376.8 1716.5"/><path class="S" d="M342.8 1671z"/><path class="R" d="M327.8 1702.1z"/><path class="S" d="M274.4 1672.7z"/><path class="r" d="M241.3 1620.8L498.7 1518.2L232.8 1661.3"/><path class="g" d="M440.3 1648.1L231.8 1673.6"/><path class="R" d="M502.3 1519.6z"/><path class="g" d="M284.5 1681.5L299.9 1501.9"/><path class="R" d="M337.8 1525.8z"/><path class="S" d="M383.9 1594.7z"/><path class="r" d="M379.5 1688.6L215.8 1711.7"/><path class="g" d="M386.7 1698.3L311.1 1653.6"/><path class="r" d="M336.9 1513L270.7 1708.1L284.5 1442.8L206.8 1710"/><path class="S" d="M292.8 1706.1z"/><path class="r" d="M298.1 1704.5L525.5 1491.1L211.2 1705.8L562.6 1518.2L209 1689.1"/><path class="g" d="M327.9 1682.5L470.4 1648.4L388.8 1665"/><path class="r" d="M515.1 1516.8L219.5 1516.8"/><path class="S" d="M400.2 1654.4z"/><path class="R" d="M423.6 1650.2z"/><path class="S" d="M330 1657.6z"/><path class="r" d="M379.8 1718.6L441.1 1648.8L411.2 1506.7"/><path class="g" d="M465.3 1597.4L326.1 1448.7"/><path class="R" d="M320.9 1466.4z"/><path class="g" d="M388.2 1456L468.7 1680.7"/><path class="r" d="M240.7 1463.6L416 1469.9"/><path class="S" d="M402.1 1675.3z"/><path class="r" d="M234.4 1703.5L247.8 1729.1L266.9 1506.7L469.7 1491.1L213.7 1661.9L339 1711.3"/><path class="g" d="M420.5 1652.2L334.3 1700.9"/><path class="r" d="M312.1 1437.6L443.5 1491.1L195.7 1693"/><path class="S" d="M427.5 1506.7z"/><path class="r" d="M292.9 1690.4L355.5 1677.1"/><path class="g" d="M378.5 1683.5L271.3 1613.5"/><path class="R" d="M217.9 1444.2z"/><path class="S" d="M539.8 1518.9z"/><path class="r" d="M322.5 1516.8L364.2 1437.6L265.8 1708.3L341.4 1448.7"/><path class="g" d="M332.4 1453.2L328.1 1697.4L351.6 1720.6"/><path class="R" d="M214.3 1620.5z"/><path class="S" d="M364.5 1698.5z"/><path class="r" d="M243.2 1646.1L281.2 1459.5L298.5 1448.7L342.7 1437.6L424.5 1453.2L266.5 1594.9"/><path class="g" d="M414.9 1442.8L496.1 1497"/><path class="r" d="M361 1716.2L490.5 1469.9"/><path class="S" d="M364.3 1726.2z"/><path class="R" d="M220.8 1466.4z"/><path class="S" d="M284.9 1736.5z"/><path class="r" d="M311.4 1730.8L393 1453.2L242.1 1709.5L287.5 1444.2L322.3 1506.7"/><path class="S" d="M417.2 1730.7z"/><path class="R" d="M421.1 1648.7z"/><path class="g" d="M425.4 1444.2L263.7 1682.3"/><path class="R" d="M264.3 1437.6z"/><path class="S" d="M415.1 1647.5z"/><path class="R" d="M201 1624.9z"/><path class="g" d="M345.8 1676.7L347.5 1720.3"/><path class="r" d="M264.8 1590.7L195.3 1653.5L387.6 1506.7L226.3 1610.7"/><path class="g" d="M254.6 1614.6L306.2 1659.1L340.3 1718.6"/><path class="R" d="M200.1 1674.3z"/><path class="S" d="M408.1 1645.7z"/><path class="r" d="M252 1704.7L199 1715L280.1 1661.8L361.1 1699.7L226.2 1600.7L336.9 1646.5L222.9 1663.9"/><path class="g" d="M397.5 1620.8L450.1 1469.9L409.3 1651.2"/><path class="r" d="M219.5 1687.7L551.3 1497L306.3 1623.5L230.3 1683.4"/><path class="S" d="M283.6 1599.5z"/><path class="r" d="M422.2 1596.9L263.5 1691.2L250.3 1442.8L209.4 1661.8"/><path class="S" d="M301.1 1684.2z"/><path class="R" d="M276.3 1692.3z"/><path class="g" d="M281.2 1610L278.2 1672.6"/><path class="r" d="M197.4 1676.5L325.1 1444.2"/><path class="g" d="M374.2 1722.4L236.1 1717.9L462.9 1709.6"/><path class="r" d="M458.4 1506.7L278.4 1722.2L269.3 1718.8L442.5 1506.7L230.9 1610.1L310.7 1585.3L241.6 1682.7L213.5 1459.5L309.7 1463.6L423.6 1506.7"/><path class="S" d="M487.7 1716.6z"/><path class="r" d="M340 1729.1L336.3 1448.7"/><path class="S" d="M282.2 1709.3z"/><path class="R" d="M195.1 1702.1z"/><path class="S" d="M252.4 1728z"/><path class="R" d="M254.2 1682z"/><path class="S" d="M286.3 1580.5z"/><path class="R" d="M202.7 1701z"/><path class="S" d="M288.9 1589.4z"/><path class="r" d="M314.5 1516.8L430.5 1649.5"/><path class="S" d="M472.7 1711z"/><path class="R" d="M322.9 1501.9z"/><path class="S" d="M455 1593.4z"/><path class="r" d="M339.9 1650.7L339.2 1525.8L401.5 1673.1"/><path class="g" d="M289.9 1645.9L327 1688.1L367.6 1645.5L402.6 1708L390.4 1650.4"/><path class="r" d="M378.7 1437.6L273.8 1681L203.7 1718.4"/><path class="S" d="M466.4 1650.3z"/><path class="R" d="M216.8 1737.1z"/><path class="g" d="M473.2 1685.9L558.7 1487.6"/><path class="R" d="M240.9 1456z"/><path class="g" d="M320.9 1594.4L372.2 1509.5"/><path class="r" d="M361.9 1491.1L339.9 1671.4"/><path class="g" d="M236.3 1661.3L316.4 1667.3"/><path class="r" d="M304.1 1596.9L370.8 1456L315.1 1728.7L325.6 1727.6"/><path class="g" d="M261.3 1701L472.5 1620"/><path class="r" d="M336.8 1442.8L288.4 1516.8"/><path class="g" d="M415.8 1646.4L395.3 1487.6L284.1 1663.8L341 1722.1"/><path class="R" d="M331.2 1663.2z"/><path class="g" d="M283.3 1595.2L277.5 1712.2"/><path class="r" d="M369 1516.8L310.1 1684L254.7 1666.4"/><path class="S" d="M274.6 1645.7z"/><path class="R" d="M243.7 1709.7z"/><path class="S" d="M448.9 1657.1z"/><path class="R" d="M475.7 1523.8z"/><path class="S" d="M301.7 1466.4z"/><path class="r" d="M315.7 1466.4L260.4 1664.7L235.9 1466.4"/><path class="g" d="M364.2 1728.5L246.8 1597.4"/><path class="R" d="M308.9 1483.8z"/><path class="S" d="M266 1666.2z"/><path class="r" d="M236.2 1463.6L287 1710L326.9 1459.5L537.6 1513L185.2 1732.3"/><path class="S" d="M326.7 1665z"/><path class="R" d="M236.8 1683.5z"/><path class="g" d="M282.5 1733L269.4 1685.9L406.1 1597.5"/><path class="r" d="M266.6 1701.7L384.6 1594.8L404.5 1690.6"/><path class="g" d="M312.9 1705.7L322.9 1679.3L344 1727.5"/><path class="R" d="M335.4 1701.7z"/><path class="g" d="M272.1 1692.7L444.9 1483.8"/><path class="r" d="M293.7 1448.7L276.8 1444.2L243.9 1487.6"/><path class="S" d="M353.2 1506.7z"/><path class="R" d="M265 1712.6z"/><path class="S" d="M319.7 1678.2z"/><path class="R" d="M344.5 1487.6z"/><path class="g" d="M393.8 1483.8L333.7 1501.9L390.9 1726.5L572.7 1513"/><path class="R" d="M298 1734.7z"/><path class="g" d="M395 1513L524.7 1509.5L335.9 1718.8"/><path class="r" d="M189.5 1680L227.7 1716.5L388.1 1437.6L271.1 1706.3L285.7 1442.8L483.7 1513"/><path class="S" d="M449.8 1647.7z"/><path class="R" d="M191.2 1616.7z"/><path class="g" d="M330.6 1711.3L408.2 1700.5"/><path class="R" d="M431 1523.8z"/><path class="g" d="M314.1 1596.3L253.1 1601L229.5 1661.6"/><path class="r" d="M185.6 1614.6L429.1 1456"/><path class="S" d="M460 1613.6z"/><path class="r" d="M344 1646.6L191.7 1692"/><path class="g" d="M369.4 1690.4L258.2 1671.8L345.7 1677.9"/><path class="r" d="M254.9 1647.8L194.2 1622.3L342.1 1719.6L491.2 1523.8"/><path class="S" d="M284.5 1728.1z"/><path class="R" d="M238 1682.3z"/><path class="S" d="M295.2 1580.8z"/><path class="R" d="M347.2 1501.9z"/><path class="g" d="M497.9 1523.8L453.5 1650L267.6 1592.7"/><path class="R" d="M485.2 1523.8z"/><path class="g" d="M286.2 1589.8L354.6 1645.8L426.9 1494.6L332.9 1673.2L238.3 1598.2"/><path class="r" d="M260.8 1442.8L258.8 1466.4L272.1 1601.3L328.8 1615L276.5 1737.7L495.4 1518.2"/><path class="S" d="M484 1593.2z"/><path class="R" d="M215.8 1727.6z"/><path class="g" d="M529.7 1501.9L443.1 1672.4L452.5 1645.9"/><path class="r" d="M266.7 1516.8L521.7 1523.8L246.4 1686.4L314.1 1674.4"/><path class="g" d="M318.5 1713.3L498.3 1487.6L399.7 1675.4L337.9 1651.8"/><path class="r" d="M404.7 1723.7L348.7 1717.3L531.2 1509.5L264.4 1662.7"/><path class="S" d="M387.9 1674.9z"/><path class="R" d="M245.1 1736.9z"/><path class="S" d="M327.5 1599.3z"/><path class="R" d="M392.1 1483.8z"/><path class="S" d="M272.9 1699.7z"/><path class="R" d="M398.4 1459.5z"/><path class="g" d="M375.6 1696.7L405.8 1670.7L254.4 1724.6"/><path class="r" d="M321.5 1653.1L219.9 1442.8"/><path class="g" d="M411.1 1708.4L376.9 1487.6L306.2 1718.6"/><path class="r" d="M359.6 1672.5L351.1 1682.7"/><path class="S" d="M223 1666.6z"/><path class="r" d="M359.8 1719.5L400.8 1463.6"/><path class="g" d="M540.2 1497L387.4 1717.5"/><path class="r" d="M315 1601L243 1712.7"/><path class="g" d="M227.9 1712.7L422.5 1483.8"/><path class="r" d="M335.2 1683.3L439.9 1717.7"/><path class="g" d="M325.8 1671.9L379.7 1680.2"/><path class="R" d="M305.6 1709.2z"/><path class="S" d="M373.4 1687.5z"/><path class="r" d="M192.3 1710.5L205.9 1695.6"/><path class="S" d="M372.6 1676.9z"/><path class="r" d="M216.8 1703.9L250.3 1708.4L341.8 1523.8"/><path class="S" d="M497.8 1664.1z"/><path class="R" d="M382.9 1725.2z"/><path class="g" d="M291 1726.2L221.3 204.6L265.3 204.6L269 204.6L282.2 204.6L357.4 204.6L297.5 220.2L444.1 220.2L219.5 248.2L223.2 248.7L231.2 250.2L246 247.7L293.1 247.4L297.5 243.2L428 242.7L297.3 280.4L240.1 291.5L269 291.5L274.7 291.5L266.1 303.4L259.1 324.5L328.5 324.5L352.5 324.5L258.4 337.6L281.2 337.6L426.3 337.6"/><path class="r" d="M193.5 204.6L237.4 204.6L241.1 204.6L243 220.2L188.6 248.2L194.3 250.2L199.7 247.4L210.4 243.2L188.1 280.4L244.3 280.4L213.3 291.5L190.3 303.4L185.4 324.5L188.6 324.5L262.1 324.5L185.4 337.6L192.3 337.6L208.4 337.6"/><path class="g" d="M692.5 233.3L696.2 233.3L699.9 233.3L708.6 233.3L716 230.9L722.2 233.3L738.3 233.3L740.8 233.3L745.7 230.9L754.9 233.3L764.3 233.3L767.3 233.3L778.4 232.1L786.6 234.6L795.2 233.3L806.9 230.9L823.7 233.3L837.8 235.1L852.9 233.3L863.3 234.6L887.4 233.3L893 233.3L914.1 233.3L917.8 233.3L935.9 233.3L941.3 233.3L1042.1 233.3L1132 233.3L1144.4 231.4L1158 233.3L1186 234.6L913.4 220.2L690 269.7L708.6 267.3L714.8 269.7L727.1 267.3L751.9 269.7L764.3 269.7L769.2 269.7L771.7 269.7L790.3 269.7L794 269.7L798.5 268.7L807.1 269.7L827.4 269.7L858.9 268.7L865.8 269.7L900.5 267.3L913.4 269.7L939.4 269.7L981.4 267.3L1072.1 267.3L1154.3 269.7"/><path class="r" d="M702.4 234.6L714.8 232.1L717.2 234.1L728.4 233.3L749.4 232.6L753.9 234.6L806.4 233.3L813.8 231.6L821.2 233.3L827.4 233.3L838.6 232.1L847.2 231.6L862.1 233.3L904.9 231.6L904.9 235.8L1137 233.3L693.7 269.7L704.9 269.7L708.6 270.2L725.9 269.7L734.6 269.7L739.5 269.7L753.9 267.3L756.4 269.7L766.8 268.7L786.6 269.7L873.2 269.7L1002 269.2L1075 270.2"/><path class="g" d="M1336.3 236.3L1303.4 270.5L1498.2 267.5L1703.3 233.3"/><path class="r" d="M1361.3 204.4L1422.2 231.4L1402.2 270.5"/><path class="g" d="M225.2 403.4L348.3 403.4L236.4 426.4L274.2 426.4L225 468.3L235.6 468.3L241.8 481.9L241.8 490.1L249.5 490.1"/><path class="r" d="M232.2 362.5L214.1 403.4L218.3 426.4L222 426.4L229.4 426.4L226.5 448.2L230.2 448.2L233.4 448.2L193 468.3L229.4 468.3L233.4 468.3L270.3 468.3L199.7 482.4L202.2 482.4L210.9 482.4L214.6 482.4L218.3 482.4L224 482.4L245.5 481.9L193 490.1L632.3 426.4"/><path class="S" d="M348.8 501.4z"/><path class="r" d="M355.7 501.4L361.9 501.4L368.1 501.4L375.5 501.4L383 501.4L390.4 501.4L397.8 501.4L404 501.4L409 501.4"/><path class="S" d="M420.6 501.4z"/><path class="r" d="M430 501.4L433.7 501.4"/><path class="S" d="M436.2 501.4z"/><path class="r" d="M441.1 501.4L453.5 501.4L460.2 501.4L486.2 501.4"/><path class="g" d="M506 501.4L524.1 501.4L527.8 501.4"/><path class="R" d="M532.8 501.4z"/><path class="S" d="M540.7 501.4z"/><path class="r" d="M550.1 501.4L569.9 501.4"/><path class="g" d="M573.6 501.4L579.1 501.4"/><path class="R" d="M589.2 501.4z"/><path class="g" d="M593.4 501.4L622.4 501.4"/><path class="R" d="M353.2 514.3z"/><path class="S" d="M359.4 514.3z"/><path class="r" d="M368.1 514.3L374.3 514.3"/><path class="S" d="M380 514.3z"/><path class="r" d="M394.1 514.3L400.3 514.3L405.2 514.3L413.9 514.3L421.3 514.3L430 514.3L443.6 514.3L448.6 514.3"/><path class="S" d="M453 514.3z"/><path class="r" d="M477 514.3L485.7 514.3L490.7 514.3"/><path class="S" d="M493.1 514.3z"/><path class="R" d="M506.8 514.3z"/><path class="S" d="M517.9 514.3z"/><path class="R" d="M532 514.3z"/><path class="g" d="M590.2 514.3L592.7 514.3"/><path class="r" d="M643 514.3L368.1 526.2L371.8 526.2L380.5 526.2L387.9 526.2"/><path class="g" d="M397.3 526.2L409 526.2"/><path class="R" d="M413.9 526.2z"/><path class="g" d="M426.3 526.2L431.2 526.2"/><path class="r" d="M436.2 526.2L442.4 526.2L447.3 526.2L452.3 526.2L457.2 526.2L462.2 526.2"/><path class="S" d="M467.1 526.2z"/><path class="R" d="M477 526.2z"/><path class="S" d="M482.5 526.2z"/><path class="R" d="M489.4 526.2z"/><path class="S" d="M496.4 526.2z"/><path class="R" d="M510.5 526.2z"/><path class="g" d="M513 526.2L519.6 526.2"/><path class="R" d="M534 526.2z"/><path class="g" d="M543.9 526.2L550.1 526.2L556.3 526.2L567.4 526.2"/><path class="R" d="M568.7 526.2z"/><path class="g" d="M576.1 526.2L589 526.2"/><path class="R" d="M620.2 526.2z"/><path class="g" d="M641.7 526.2L644.2 526.2"/><path class="r" d="M647.9 526.2L657.8 526.2L353.2 541.3"/><path class="S" d="M362.6 541.3z"/><path class="r" d="M375.5 541.3L381.7 541.3"/><path class="S" d="M389.1 541.3z"/><path class="R" d="M400.3 541.3z"/><path class="S" d="M411.4 541.3z"/><path class="r" d="M415.1 541.3L425 541.3"/><path class="S" d="M435 541.3z"/><path class="R" d="M442.4 541.3z"/><path class="g" d="M447.3 541.3L462.2 541.3"/><path class="r" d="M470.9 541.3L477 541.3L483.2 541.3L489.4 541.3"/><path class="S" d="M499.3 541.3z"/><path class="r" d="M504.3 541.3L509.2 541.3L514.2 541.3"/><path class="S" d="M527.8 541.3z"/><path class="r" d="M536.5 541.3L541.4 541.3"/><path class="S" d="M542.7 541.3z"/><path class="r" d="M557.5 541.3L567.4 541.3"/><path class="S" d="M601.4 541.3z"/><path class="r" d="M606.6 541.3L638 541.3L665.2 541.3"/><path class="S" d="M355.7 560.1z"/><path class="r" d="M365.6 560.1L373 560.1"/><path class="g" d="M383 560.1L394.1 560.1L397.8 560.1"/><path class="R" d="M407.7 560.1z"/><path class="S" d="M413.9 560.1z"/><path class="r" d="M416.4 560.1L426.3 560.1"/><path class="g" d="M438.7 560.1L441.1 560.1"/><path class="r" d="M452.3 560.1L457.2 560.1"/><path class="g" d="M476.3 560.1L491.9 560.1"/><path class="r" d="M493.1 560.1L505.5 560.1"/><path class="S" d="M510.5 560.1z"/><path class="R" d="M511.7 560.1z"/><path class="g" d="M530.3 560.1L537.7 560.1"/><path class="R" d="M543.9 560.1z"/><path class="S" d="M554.6 560.1z"/><path class="R" d="M556.3 560.1z"/><path class="S" d="M572.4 560.1z"/><path class="r" d="M604.6 560.1L610.8 560.1L615.7 560.1L618.7 560.1"/><path class="g" d="M1075.3 501.4L704.1 514.3L831.1 514.3L855.2 514.3L900 514.3L715 526.2L727.1 526.2L747 526.2L722.9 541.3L728.4 541.3L738.3 541.3L762.1 541.3L1059.2 541.3L719.2 560.1L751.9 560.1"/><path class="r" d="M708.1 501.4L765.3 501.4L812.3 501.4L718 514.3L703.1 526.2L744 526.2L717.7 541.3L841 541.3L855.2 541.3"/><path class="S" d="M227.2 896.2z"/><path class="r" d="M187.3 609.5L202.2 602.5L225.2 609.5L197.2 631.5L190.3 682.3L289.1 719.4L250.2 766.2L269 801.1L233.1 817.5L1963.1 426.1L1453.1 1518.2L1553.4 1649.1"/><path class="g" d="M504.7 1468.9L511.8 1468.9"/><path class="r" d="M503.1 1468.9L517.3 1468.9"/><path class="S" d="M527.5 1468.9z"/><path class="R" d="M538.5 1468.9z"/><path class="S" d="M547.1 1468.9z"/><path class="r" d="M548.7 1468.9L558.1 1468.9"/><path class="S" d="M558.1 1468.9z"/><path class="R" d="M568.4 1468.9z"/><path class="S" d="M575.4 1468.9z"/><path class="R" d="M577 1468.9z"/><path class="S" d="M580.1 1468.9z"/><path class="r" d="M590.4 1468.9L593.5 1468.9"/><path class="S" d="M602.1 1468.9z"/><path class="R" d="M602.9 1468.9z"/><path class="g" d="M610 1468.9L619.4 1468.9"/><path class="R" d="M648.5 1468.9z"/><path class="g" d="M650.1 1468.9L658.2 1468.9L666.6 1468.9L672.9 1468.9L679.1 1468.9"/><path class="R" d="M680.7 1468.9z"/><path class="S" d="M698.8 1468.9z"/><path class="R" d="M701.1 1468.9z"/><path class="g" d="M707.4 1328.4L737.3 1433.3L609.2 1437.2L619.1 1443.3L567.9 1447.7L673.3 1448.2L511 1455.3L528.3 1455.3L614.2 1455.3L786.3 1455.3L761.2 1463L754.9 1467.4L771.4 1469.4L525.9 1466.6L623.4 1466.1L511 1483.1L518.1 1487L532.2 1480.7L536.1 1483.1L529.1 1486.2L526.7 1488.6L529.9 1494.1L508.6 1495.6L558.1 1483.1L562.1 1487L569.9 1486.2L573.9 1488.6L580.1 1487L575.4 1494.9L562.9 1496.4L597.4 1483.1L592.7 1495.6L599.8 1496.4L620.2 1494.1L640.3 1483.1L633.3 1490.1L646.1 1501.1L671 1494.4L723.1 1494.4L732.6 1496.4L763.5 1487L708.2 1501.1L686.2 1505.9L738.5 1509.3L730.7 1512.1L803.3 1509.3L533.5 1505.9L559.4 1506.6L575.4 1501.9L569.1 1509L582.5 1510.6L590.4 1511.4L611.6 1509.3L619.4 1509.3L643.8 1509.8L647.7 1512.9L655.6 1512.1L671.3 1518.4L659.5 1523.5L668.9 1525.8L674.4 1521.6L676.8 1524.7L762 1523.1L503.9 1507.4L511 1511.4L523.6 1509L520.4 1518.4L533 1517.6L543.2 1512.1L553.4 1517.6L550.3 1524.7L555.8 1525.5L562.9 1518.4L569.9 1518.4L570.7 1523.9L586.4 1523.1L594.3 1516.9L600.6 1518.4L608.4 1525.5L613.1 1519.2L615.5 1523.1L622.6 1519.2L511.8 1525.5L522 1524.7L503.9 1535.2"/><path class="r" d="M578.9 1443.3L515.2 1448L568 1453.2L503.1 1483.1L501.6 1490.1L588.8 1487L594.3 1489.4L542.4 1494.4L518.9 1496.4L511.8 1496.4L553.4 1501.1L545.6 1506.6L512.6 1504.3L580.9 1501.1L597.4 1506.6L614.7 1496.4L638.3 1495.6L634.4 1501.5L653.2 1496.4L679.1 1494.4L686.2 1509L722.4 1506.2L778.1 1501.1L657.1 1512.1L676.8 1519.2L683.9 1523.1L702.7 1525.5L709.8 1523.1L626.5 1523.9L580.1 1519.2L584.9 1520L540.1 1523.9L529.1 1525.5L507.9 1523.1L504.7 1519.2L605.3 1517.6"/><path class="g" d="M958.3 1469.4L898.3 1512.2L861 1523.1L1016.2 1525.3L1297.3 1388.4"/><path class="r" d="M1022.2 1448.3L954.1 1455.3L892.2 1483.5L892.2 1496.4L891.2 1501.8L880.3 1509.5L837.2 1512.2L864.2 1525.3L987.2 1520.4L1222.5 1442.4"/><path class="g" d="M524.4 1585.4L533 1595L540.5 1594.2L557.4 1601.3L509.4 1607.3L609.4 1612.3L635.5 1624.4L576.4 1633.2L569.1 1643.2L577.5 1643.2L500 1645L518.1 1650.3L525.5 1650.3L536.5 1651.1L549.5 1653.1L561.3 1652.2L575.1 1652.2L578.3 1651.1L589.1 1650.3L599.3 1655L616.3 1650.3L654.3 1652.2L667.4 1652.2L696.4 1651.1L705.1 1650.3L709.8 1651.1L777.4 1653.1L503.1 1655.5L529.1 1663.4L508.2 1666.2L503.1 1678.3L534.6 1676.2L529.2 1691.2L583.3 1692.9L584.1 1698.7L627.3 1700L507.9 1700.3L547.1 1700.3L629.6 1707.4L635.5 1709.4L514.1 1706.3L507.1 1709.4L554.2 1706.6L555 1716.5L591.9 1709.7L597.4 1712.1L610 1715.2L620.2 1720.2L680.2 1712.4L773.4 1708.5L800.9 1707.4L806.4 1704.2L642.2 1725.4L633.3 1728.1L503.1 1733.3L511.3 1730.1L513.4 1734.5L597.4 1734.5L689.4 1734.5L716.4 1733.3"/><path class="r" d="M606.4 1594.2L553.4 1624.4L538.5 1651.1L542.1 1652.2L588 1652.2L602.1 1653.9L690.5 1651.1L737.3 1650.3L769 1652.2L520.1 1662.3L586.1 1669.3L613.3 1672.3L544.5 1691.2L745.5 1693.2L673.3 1697.1L685.4 1700.3L529.5 1700.3L553.4 1701.1L501.6 1701.1L815.5 1701.2L541.3 1709.4L530.3 1712.4L578.6 1706.3L579.4 1709.4L588.3 1706.3L596.2 1708.1L716.4 1712.4L749.4 1714.4L520.4 1734.5"/><path class="g" d="M894.4 1690.3L930.3 1711.1L974.4 1709.4L1083.3 1730.2"/><path class="R" d="M975.1 1701.2z"/><path class="g" d="M250.1 1576.1L258 1576.1L265.9 1576.1L228.9 1629.6"/><path class="r" d="M199.1 1576.1L221.9 1576.1L225.8 1576.1L229.7 1576.1L242.3 1576.1L236 1630.4L243.1 1630.4L255.6 1630.4L284.7 1630.4"/><path class="g" d="M218.6 1328.4L240 1328.4L218.6 1332.7L236.6 1332.7L243.4 1332.7L248.6 1332.7"/><path class="r" d="M198.4 1328.4L201.4 1328.4L204.9 1328.4L208.3 1328.4L211.7 1328.4L215.1 1328.4"/><path class="S" d="M226.3 1328.4z"/><path class="r" d="M231.4 1328.4L234.9 1328.4L245.6 1328.4"/><path class="g" d="M246 1328.9L252 1328.4"/><path class="r" d="M261.4 1328.4L261.4 1332.7"/><path class="g" d="M270.9 1328.4L290.1 1328.4L294.9 1332.3L321.9 1328.4"/><path class="R" d="M217.3 1340.4z"/><path class="g" d="M319.7 1340.4L327.9 1340.4L234 1347.3L247.7 1347.3"/><path class="r" d="M199.3 1347.3L202.7 1347.3L206.1 1347.3L209.6 1347.3L213 1347.3L216.4 1347.3L219.9 1347.3L226.7 1347.3L244.3 1347.3"/><path class="g" d="M245.6 1347.7L252 1347.3L256.3 1347.3"/><path class="r" d="M263.6 1347.3L227.1 1358.4L233.1 1358.4"/><path class="g" d="M243.9 1358.4L255.4 1358.4L259.3 1358.4L266.6 1358.4L267.4 1358.4L293.6 1358.4L315.3 1358.4"/><path class="r" d="M210 1365.7L216 1366.6L221.1 1365.7L204 1370.9L208.3 1370"/><path class="S" d="M212.1 1373.4z"/><path class="r" d="M214.3 1371.7L219.4 1371.7L224.6 1370L228.9 1370.9L234 1371.3L242.6 1366.6L243.4 1371.7L267.4 1371.3"/><path class="g" d="M277.7 1371.3L282 1371.3L279.4 1371.5L311.1 1371.3L327 1371.3L338.6 1371.3"/><path class="r" d="M201.4 1379.4L205.7 1381.1L210 1378.6L218.6 1377.7L222.9 1378.6"/><path class="g" d="M230.6 1379.4L213.9 1384.1L214.3 1384.6L228 1383.7L240 1383.7L251.1 1380.3L255.4 1380.3L258 1380.7L254.6 1380.5"/><path class="R" d="M267.9 1380.3z"/><path class="S" d="M280.3 1380.3z"/><path class="r" d="M198.9 1388.9L204 1391.4L208.3 1389.7L214.3 1392.3L219.4 1391.4L224.6 1390.6"/><path class="S" d="M229.7 1388.9z"/><path class="r" d="M244.3 1388L252 1388.4"/><path class="S" d="M291.4 1387.6z"/><path class="R" d="M289.3 1391z"/><path class="S" d="M325.7 1391z"/><path class="r" d="M337.3 1391L232.7 1397.9L240 1396.6L242.6 1399.1"/><path class="g" d="M252.9 1396.6L255.4 1399.1L257.1 1401.7L253.7 1398.7L263.6 1396.6"/><path class="R" d="M269.1 1401.3z"/><path class="S" d="M284.1 1401.3z"/><path class="R" d="M301.3 1397.3z"/><path class="g" d="M301.3 1397.3L331.3 1398.3"/><path class="R" d="M250.3 1407.7z"/><path class="S" d="M244.7 1406.9z"/><path class="r" d="M201 1415L218.1 1409.9L214.3 1415.4"/><path class="g" d="M225.4 1415L228.9 1416.3L234.9 1416.7L247.3 1415.4"/><path class="R" d="M268.3 1415z"/><path class="g" d="M281.1 1416.7L334.3 1415"/><path class="r" d="M203.1 1424L208.3 1421.4L212.6 1425.7L216.9 1423.1L221.1 1427.4L226.3 1424.9L231.4 1428.3L236.6 1424L241.7 1427.4L246.9 1424.9L251.1 1425.7"/><path class="g" d="M256.3 1423.1L268.3 1425.3L269.1 1425.7"/><path class="R" d="M276.9 1424.9z"/><path class="g" d="M281.1 1420.6L285.4 1425.7L292.3 1425.3L301.7 1423.1L306 1424L310.3 1425.3L306.9 1424.4L316.3 1429.1"/><path class="r" d="M334.3 1429.1L343.3 1423.1L203.1 1429.6L208.3 1430.9L211.7 1420.6L205.7 1426.6L216 1428.3L222.9 1422.3L228 1429.1L234.9 1429.1L239.1 1421.4L245.1 1429.1"/><path class="g" d="M364.1 1332.2L441.5 1328.3L367.2 1420.2L371.1 1429.2L440.3 1443L463.1 1442.2L452.1 1448.5L394.7 1448.5L423 1457.9L356.2 1447.7L352.3 1453.2L348.4 1458.7"/><path class="r" d="M386.1 1425.2L433.2 1425.2L360.9 1431.2L380.6 1432.8L370.4 1441.4L357 1436.7L410.4 1436.7L419.1 1437L452.9 1436.7L394.7 1442.2L401 1443L481.9 1442.2L434 1443L382.9 1448.5L408.9 1450.9L435.6 1454.8L460.7 1454.8L423 1454.8L451.3 1453.2L481.1 1458.7L493.7 1462.6L462.3 1458.7"/><path class="g" d="M265.9 1538.9L280 1535.7L349.1 1535.7L356.2 1532.6"/><path class="r" d="M207.7 1535.7L221.9 1535.7L228.9 1538.1L236 1535.7L248.6 1535.7L258 1537.3L291 1535.7L274.5 1538.1"/>
<text x="1074.5" y="49" text-anchor="middle" font-size="41.98" font-weight="bold" fill="#000">Fronteras de Decisión del Árbol (2D)</text>
<text x="1074.3" y="100" text-anchor="middle" font-size="33.85" fill="#4D4D4D">Modelo entrenado solo con duration y euribor3m</text>
<text x="184.4" y="1855.8" text-anchor="middle" font-size="28.7" fill="#4D4D4D">0</text>
<text x="546.2" y="1855.8" text-anchor="middle" font-size="28.7" fill="#4D4D4D">1000</text>
<text x="908.0" y="1855.8" text-anchor="middle" font-size="28.7" fill="#4D4D4D">2000</text>
<text x="1269.8" y="1855.8" text-anchor="middle" font-size="28.7" fill="#4D4D4D">3000</text>
<text x="1631.6" y="1855.8" text-anchor="middle" font-size="28.7" fill="#4D4D4D">4000</text>
<text x="1993.4" y="1855.8" text-anchor="middle" font-size="28.7" fill="#4D4D4D">5000</text>
<text x="73.6" y="1620.9" text-anchor="end" font-size="28.7" fill="#4D4D4D">1</text>
<text x="73.6" y="1273.4" text-anchor="end" font-size="28.7" fill="#4D4D4D">2</text>
<text x="73.6" y="925.8" text-anchor="end" font-size="28.7" fill="#4D4D4D">3</text>
<text x="73.6" y="578.3" text-anchor="end" font-size="28.7" fill="#4D4D4D">4</text>
<text x="73.6" y="230.7" text-anchor="end" font-size="28.7" fill="#4D4D4D">5</text>
<text x="1074.8" y="1895.8" text-anchor="middle" font-size="34.23" fill="#000">Duration (segundos)</text>
<text transform="translate(43.9 970.9) rotate(-90)" text-anchor="middle" font-size="35.0" fill="#000">Euribor 3m (%)</text>
<text x="2108.7" y="823.8" font-size="34.3" fill="#000">Predicción</text>
<rect x="2110" y="845" width="44" height="44" fill="#E74C3C" fill-opacity="0.3"/>
<rect x="2110" y="891" width="44" height="44" fill="#27AE60" fill-opacity="0.3"/>
<text x="2172.6" y="878.5" font-size="27.3" fill="#000">no</text>
<text x="2172.6" y="924.3" font-size="27.3" fill="#000">yes</text>
<text x="2108.3" y="1036" font-size="34.3" fill="#000">Real</text>
<circle cx="2132" cy="1079.5" r="4.5" fill="#E74C3C" fill-opacity="0.6" stroke="#E74C3C" stroke-opacity="0.6" stroke-width="2.2"/>
<circle cx="2132" cy="1125.5" r="4.5" fill="#27AE60" fill-opacity="0.6" stroke="#27AE60" stroke-opacity="0.6" stroke-width="2.2"/>
<text x="2172.6" y="1089.3" font-size="27.3" fill="#000">no</text>
<text x="2172.6" y="1135" font-size="27.3" fill="#000">yes</text>
</svg>
</body></html>
